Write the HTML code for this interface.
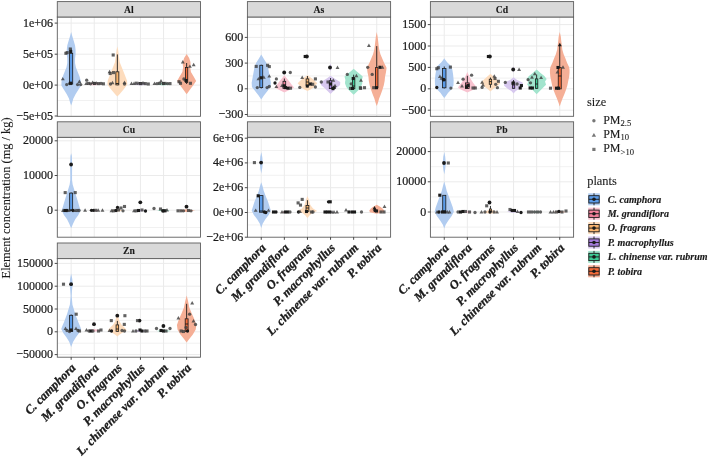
<!DOCTYPE html><html><head><meta charset="utf-8"><style>html,body{margin:0;padding:0;background:#fff;}svg{display:block;will-change:transform;}text{font-family:"Liberation Serif",serif;} .tx{will-change:transform;}</style></head><body>
<svg width="708" height="458" viewBox="0 0 708 458">
<rect width="708" height="458" fill="#fff"/>
<rect x="57.3" y="17.0" width="143.2" height="99.3" fill="#fff"/>
<line x1="57.3" x2="200.5" y1="38.6" y2="38.6" stroke="#EDEDED" stroke-width="0.8"/>
<line x1="57.3" x2="200.5" y1="69.6" y2="69.6" stroke="#EDEDED" stroke-width="0.8"/>
<line x1="57.3" x2="200.5" y1="100.5" y2="100.5" stroke="#EDEDED" stroke-width="0.8"/>
<line x1="57.3" x2="200.5" y1="23.1" y2="23.1" stroke="#EBEBEB" stroke-width="1"/>
<line x1="57.3" x2="200.5" y1="54.2" y2="54.2" stroke="#EBEBEB" stroke-width="1"/>
<line x1="57.3" x2="200.5" y1="85.1" y2="85.1" stroke="#EBEBEB" stroke-width="1"/>
<line x1="71.16" x2="71.16" y1="17.0" y2="116.3" stroke="#EBEBEB" stroke-width="1"/>
<line x1="94.25" x2="94.25" y1="17.0" y2="116.3" stroke="#EBEBEB" stroke-width="1"/>
<line x1="117.35" x2="117.35" y1="17.0" y2="116.3" stroke="#EBEBEB" stroke-width="1"/>
<line x1="140.45" x2="140.45" y1="17.0" y2="116.3" stroke="#EBEBEB" stroke-width="1"/>
<line x1="163.55" x2="163.55" y1="17.0" y2="116.3" stroke="#EBEBEB" stroke-width="1"/>
<line x1="186.64" x2="186.64" y1="17.0" y2="116.3" stroke="#EBEBEB" stroke-width="1"/>
<path d="M71.16,31.90 L72.46,36.70 L73.76,41.10 L75.06,45.50 L75.56,49.80 L75.56,54.20 L75.06,58.50 L75.06,62.90 L75.86,67.30 L77.96,72.40 L79.66,76.70 L80.76,81.10 L80.96,85.50 L78.36,89.80 L75.56,94.20 L73.36,98.50 L72.06,102.90 L71.16,105.50 L70.26,102.90 L68.96,98.50 L66.76,94.20 L63.96,89.80 L61.36,85.50 L61.56,81.10 L62.66,76.70 L64.36,72.40 L66.46,67.30 L67.26,62.90 L67.26,58.50 L66.76,54.20 L66.76,49.80 L67.26,45.50 L68.56,41.10 L69.86,36.70 Z" fill="#B1CCF0" stroke="none"/>
<path d="M94.25,82.00 L100.25,83.30 L101.75,84.30 L94.25,85.50 L86.75,84.30 L88.25,83.30 Z" fill="#F8C3D0" stroke="none"/>
<path d="M117.35,46.40 L118.15,50.00 L118.85,56.20 L119.75,62.30 L122.25,68.40 L124.65,74.50 L126.95,80.60 L127.35,84.30 L125.85,86.50 L123.75,89.20 L119.75,94.10 L117.35,96.50 L114.95,94.10 L110.95,89.20 L108.85,86.50 L107.35,84.30 L107.75,80.60 L110.05,74.50 L112.45,68.40 L114.95,62.30 L115.85,56.20 L116.55,50.00 Z" fill="#FDDCBD" stroke="none"/>
<path d="M140.45,82.00 L145.45,83.50 L147.45,84.50 L140.45,85.50 L133.45,84.50 L135.45,83.50 Z" fill="#D7C8EE" stroke="none"/>
<path d="M163.55,82.00 L168.55,83.50 L170.55,84.50 L163.55,85.50 L156.55,84.50 L158.55,83.50 Z" fill="#A2E4CD" stroke="none"/>
<path d="M186.64,54.00 L189.14,58.00 L190.44,62.00 L190.54,64.50 L190.14,67.00 L190.94,72.00 L193.94,77.10 L196.14,81.10 L193.44,85.10 L190.44,89.10 L186.64,94.20 L182.84,89.10 L179.84,85.10 L177.14,81.10 L179.34,77.10 L182.34,72.00 L183.14,67.00 L182.74,64.50 L182.84,62.00 L184.14,58.00 Z" fill="#F5AF96" stroke="none"/>
<line x1="71.16" x2="71.16" y1="48.5" y2="53.3" stroke="#1a1a1a" stroke-width="0.9"/>
<line x1="71.16" x2="71.16" y1="84.1" y2="85.1" stroke="#1a1a1a" stroke-width="0.9"/>
<rect x="69.61" y="53.3" width="3.10" height="30.80" fill="#5B9BE8" stroke="#1a1a1a" stroke-width="0.8"/>
<line x1="69.61" x2="72.71" y1="83" y2="83" stroke="#1a1a1a" stroke-width="0.9"/>
<line x1="117.35" x2="117.35" y1="54.4" y2="71.8" stroke="#1a1a1a" stroke-width="0.9"/>
<line x1="117.35" x2="117.35" y1="84.9" y2="85.2" stroke="#1a1a1a" stroke-width="0.9"/>
<rect x="115.85" y="71.8" width="3.00" height="13.10" fill="#F9B46E" stroke="#1a1a1a" stroke-width="0.8"/>
<line x1="115.85" x2="118.85" y1="83.5" y2="83.5" stroke="#1a1a1a" stroke-width="0.9"/>
<line x1="186.64" x2="186.64" y1="63.0" y2="67.5" stroke="#1a1a1a" stroke-width="0.9"/>
<line x1="186.64" x2="186.64" y1="82.5" y2="84" stroke="#1a1a1a" stroke-width="0.9"/>
<rect x="185.54" y="67.5" width="2.20" height="15.00" fill="#F36B3A" stroke="#1a1a1a" stroke-width="0.8"/>
<line x1="185.54" x2="187.74" y1="80" y2="80" stroke="#1a1a1a" stroke-width="0.9"/>
<line x1="94.25" x2="94.25" y1="82" y2="82.5" stroke="#1a1a1a" stroke-width="0.9"/>
<line x1="94.25" x2="94.25" y1="84.5" y2="85" stroke="#1a1a1a" stroke-width="0.9"/>
<rect x="93.25" y="82.5" width="2.00" height="2.00" fill="#F3819C" stroke="#1a1a1a" stroke-width="0.8"/>
<line x1="93.25" x2="95.25" y1="84" y2="84" stroke="#1a1a1a" stroke-width="0.9"/>
<line x1="140.45" x2="140.45" y1="82" y2="82.5" stroke="#1a1a1a" stroke-width="0.9"/>
<line x1="140.45" x2="140.45" y1="84.5" y2="85" stroke="#1a1a1a" stroke-width="0.9"/>
<rect x="139.45" y="82.5" width="2.00" height="2.00" fill="#A57BDB" stroke="#1a1a1a" stroke-width="0.8"/>
<line x1="139.45" x2="141.45" y1="84" y2="84" stroke="#1a1a1a" stroke-width="0.9"/>
<line x1="163.55" x2="163.55" y1="82" y2="82.5" stroke="#1a1a1a" stroke-width="0.9"/>
<line x1="163.55" x2="163.55" y1="84.5" y2="85" stroke="#1a1a1a" stroke-width="0.9"/>
<rect x="162.55" y="82.5" width="2.00" height="2.00" fill="#3CCB94" stroke="#1a1a1a" stroke-width="0.8"/>
<line x1="162.55" x2="164.55" y1="84" y2="84" stroke="#1a1a1a" stroke-width="0.9"/>
<rect x="68.75" y="47.45" width="3.1" height="3.1" fill="#404040" fill-opacity="0.82"/>
<rect x="69.15" y="50.05" width="3.1" height="3.1" fill="#1a1a1a" fill-opacity="1"/>
<rect x="64.35" y="51.75" width="3.1" height="3.1" fill="#404040" fill-opacity="0.82"/>
<rect x="65.65" y="51.05" width="3.1" height="3.1" fill="#404040" fill-opacity="0.82"/>
<path d="M62.80,76.90 L64.75,80.30 L60.85,80.30 Z" fill="#404040" fill-opacity="0.82"/>
<path d="M79.40,79.50 L81.35,82.90 L77.45,82.90 Z" fill="#404040" fill-opacity="0.82"/>
<circle cx="66.7" cy="84.6" r="1.65" fill="#404040" fill-opacity="0.82"/>
<circle cx="69.6" cy="83.6" r="1.65" fill="#404040" fill-opacity="0.82"/>
<circle cx="77.6" cy="84.6" r="1.65" fill="#404040" fill-opacity="0.82"/>
<circle cx="80.7" cy="84.6" r="1.65" fill="#404040" fill-opacity="0.82"/>
<rect x="68.95" y="81.65" width="3.1" height="3.1" fill="#1a1a1a" fill-opacity="1"/>
<circle cx="86.7" cy="80.2" r="1.65" fill="#404040" fill-opacity="0.82"/>
<path d="M86.20,81.60 L88.15,85.00 L84.25,85.00 Z" fill="#404040" fill-opacity="0.82"/>
<rect x="86.95" y="81.85" width="3.1" height="3.1" fill="#404040" fill-opacity="0.82"/>
<circle cx="90.6" cy="83.8" r="1.65" fill="#404040" fill-opacity="0.82"/>
<path d="M92.60,80.60 L94.55,84.00 L90.65,84.00 Z" fill="#404040" fill-opacity="0.82"/>
<rect x="93.05" y="81.85" width="3.1" height="3.1" fill="#404040" fill-opacity="0.82"/>
<path d="M96.60,81.20 L98.55,84.60 L94.65,84.60 Z" fill="#404040" fill-opacity="0.82"/>
<rect x="97.05" y="82.05" width="3.1" height="3.1" fill="#404040" fill-opacity="0.82"/>
<circle cx="101" cy="83.4" r="1.65" fill="#404040" fill-opacity="0.82"/>
<rect x="101.85" y="82.25" width="3.1" height="3.1" fill="#404040" fill-opacity="0.82"/>
<rect x="111.65" y="53.45" width="3.1" height="3.1" fill="#404040" fill-opacity="0.82"/>
<path d="M109.60,69.80 L111.55,73.20 L107.65,73.20 Z" fill="#404040" fill-opacity="0.82"/>
<rect x="108.65" y="71.95" width="3.1" height="3.1" fill="#404040" fill-opacity="0.82"/>
<rect x="111.95" y="71.05" width="3.1" height="3.1" fill="#404040" fill-opacity="0.82"/>
<circle cx="110.5" cy="84" r="1.65" fill="#404040" fill-opacity="0.82"/>
<path d="M112.50,80.80 L114.45,84.20 L110.55,84.20 Z" fill="#404040" fill-opacity="0.82"/>
<circle cx="124.5" cy="84" r="1.65" fill="#404040" fill-opacity="0.82"/>
<path d="M124.50,80.50 L126.45,83.90 L122.55,83.90 Z" fill="#404040" fill-opacity="0.82"/>
<path d="M131.50,81.50 L133.45,84.90 L129.55,84.90 Z" fill="#404040" fill-opacity="0.82"/>
<path d="M134.00,81.60 L135.95,85.00 L132.05,85.00 Z" fill="#404040" fill-opacity="0.82"/>
<rect x="134.75" y="81.65" width="3.1" height="3.1" fill="#404040" fill-opacity="0.82"/>
<path d="M138.60,81.40 L140.55,84.80 L136.65,84.80 Z" fill="#404040" fill-opacity="0.82"/>
<rect x="139.25" y="82.05" width="3.1" height="3.1" fill="#404040" fill-opacity="0.82"/>
<circle cx="143" cy="83.2" r="1.65" fill="#404040" fill-opacity="0.82"/>
<rect x="143.75" y="82.05" width="3.1" height="3.1" fill="#404040" fill-opacity="0.82"/>
<rect x="146.75" y="82.45" width="3.1" height="3.1" fill="#404040" fill-opacity="0.82"/>
<path d="M154.50,81.60 L156.45,85.00 L152.55,85.00 Z" fill="#404040" fill-opacity="0.82"/>
<circle cx="157" cy="83.6" r="1.65" fill="#404040" fill-opacity="0.82"/>
<rect x="157.95" y="81.85" width="3.1" height="3.1" fill="#404040" fill-opacity="0.82"/>
<path d="M161.00,79.00 L162.95,82.40 L159.05,82.40 Z" fill="#404040" fill-opacity="0.82"/>
<circle cx="163" cy="83.6" r="1.65" fill="#404040" fill-opacity="0.82"/>
<rect x="163.45" y="81.85" width="3.1" height="3.1" fill="#404040" fill-opacity="0.82"/>
<circle cx="167.5" cy="83.6" r="1.65" fill="#404040" fill-opacity="0.82"/>
<rect x="168.45" y="82.05" width="3.1" height="3.1" fill="#404040" fill-opacity="0.82"/>
<path d="M182.80,60.00 L184.75,63.40 L180.85,63.40 Z" fill="#404040" fill-opacity="0.82"/>
<path d="M193.70,62.80 L195.65,66.20 L191.75,66.20 Z" fill="#404040" fill-opacity="0.82"/>
<path d="M189.90,64.40 L191.85,67.80 L187.95,67.80 Z" fill="#404040" fill-opacity="0.82"/>
<rect x="177.45" y="80.15" width="3.1" height="3.1" fill="#404040" fill-opacity="0.82"/>
<rect x="178.95" y="81.75" width="3.1" height="3.1" fill="#404040" fill-opacity="0.82"/>
<rect x="188.85" y="81.75" width="3.1" height="3.1" fill="#404040" fill-opacity="0.82"/>
<circle cx="183.9" cy="79" r="1.65" fill="#404040" fill-opacity="0.82"/>
<rect x="184.45" y="78.95" width="3.1" height="3.1" fill="#1a1a1a" fill-opacity="1"/>
<rect x="57.3" y="17.0" width="143.2" height="99.3" fill="none" stroke="#5e5e5e" stroke-width="0.9"/>
<rect x="57.3" y="1.6" width="143.2" height="15.4" fill="#D9D9D9" stroke="#5e5e5e" stroke-width="0.9"/>
<text x="128.90" y="12.55" font-size="9.7" font-weight="bold" text-anchor="middle" fill="#1a1a1a" stroke="#1a1a1a" stroke-width="0.1">Al</text>
<line x1="54.699999999999996" x2="57.3" y1="23.1" y2="23.1" stroke="#333" stroke-width="0.9"/>
<text transform="translate(53.10,23.10) scale(1,1.1)" x="0" y="3.2" font-size="12" text-anchor="end" fill="#1a1a1a" stroke="#1a1a1a" stroke-width="0.22">1e+06</text>
<line x1="54.699999999999996" x2="57.3" y1="54.2" y2="54.2" stroke="#333" stroke-width="0.9"/>
<text transform="translate(53.10,54.20) scale(1,1.1)" x="0" y="3.2" font-size="12" text-anchor="end" fill="#1a1a1a" stroke="#1a1a1a" stroke-width="0.22">5e+05</text>
<line x1="54.699999999999996" x2="57.3" y1="85.1" y2="85.1" stroke="#333" stroke-width="0.9"/>
<text transform="translate(53.10,85.10) scale(1,1.1)" x="0" y="3.2" font-size="12" text-anchor="end" fill="#1a1a1a" stroke="#1a1a1a" stroke-width="0.22">0e+00</text>
<line x1="54.699999999999996" x2="57.3" y1="116.0" y2="116.0" stroke="#333" stroke-width="0.9"/>
<text transform="translate(53.10,116.00) scale(1,1.1)" x="0" y="3.2" font-size="12" text-anchor="end" fill="#1a1a1a" stroke="#1a1a1a" stroke-width="0.22">−5e+05</text>
<rect x="247.4" y="17.0" width="143.2" height="99.3" fill="#fff"/>
<line x1="247.4" x2="390.6" y1="24.55" y2="24.55" stroke="#EDEDED" stroke-width="0.8"/>
<line x1="247.4" x2="390.6" y1="50.25" y2="50.25" stroke="#EDEDED" stroke-width="0.8"/>
<line x1="247.4" x2="390.6" y1="75.95" y2="75.95" stroke="#EDEDED" stroke-width="0.8"/>
<line x1="247.4" x2="390.6" y1="101.65" y2="101.65" stroke="#EDEDED" stroke-width="0.8"/>
<line x1="247.4" x2="390.6" y1="37.4" y2="37.4" stroke="#EBEBEB" stroke-width="1"/>
<line x1="247.4" x2="390.6" y1="63.1" y2="63.1" stroke="#EBEBEB" stroke-width="1"/>
<line x1="247.4" x2="390.6" y1="88.8" y2="88.8" stroke="#EBEBEB" stroke-width="1"/>
<line x1="247.4" x2="390.6" y1="114.5" y2="114.5" stroke="#EBEBEB" stroke-width="1"/>
<line x1="261.26" x2="261.26" y1="17.0" y2="116.3" stroke="#EBEBEB" stroke-width="1"/>
<line x1="284.35" x2="284.35" y1="17.0" y2="116.3" stroke="#EBEBEB" stroke-width="1"/>
<line x1="307.45" x2="307.45" y1="17.0" y2="116.3" stroke="#EBEBEB" stroke-width="1"/>
<line x1="330.55" x2="330.55" y1="17.0" y2="116.3" stroke="#EBEBEB" stroke-width="1"/>
<line x1="353.65" x2="353.65" y1="17.0" y2="116.3" stroke="#EBEBEB" stroke-width="1"/>
<line x1="376.74" x2="376.74" y1="17.0" y2="116.3" stroke="#EBEBEB" stroke-width="1"/>
<path d="M330.55,63.30 L331.75,67.50 L330.55,71.60 L329.35,67.50 Z" fill="#D7C8EE" stroke="none"/>
<path d="M261.26,54.40 L263.76,58.70 L266.46,63.10 L268.06,67.40 L268.86,71.80 L269.86,77.30 L270.86,82.70 L270.56,87.10 L267.06,91.40 L263.76,95.80 L261.26,99.60 L258.76,95.80 L255.46,91.40 L251.96,87.10 L251.66,82.70 L252.66,77.30 L253.66,71.80 L254.46,67.40 L256.06,63.10 L258.76,58.70 Z" fill="#B1CCF0" stroke="none"/>
<path d="M284.35,75.20 L287.35,79.00 L289.75,82.00 L291.95,85.00 L294.05,87.40 L289.35,90.00 L284.35,92.50 L279.35,90.00 L274.65,87.40 L276.75,85.00 L278.95,82.00 L281.35,79.00 Z" fill="#F8C3D0" stroke="none"/>
<path d="M307.45,75.20 L312.15,78.60 L314.95,81.00 L317.25,83.30 L315.75,85.00 L313.55,87.40 L310.45,89.50 L307.45,91.10 L304.45,89.50 L301.35,87.40 L299.15,85.00 L297.65,83.30 L299.95,81.00 L302.75,78.60 Z" fill="#FDDCBD" stroke="none"/>
<path d="M330.55,75.80 L335.15,79.10 L340.25,82.00 L340.05,84.90 L336.35,88.20 L333.05,91.50 L330.55,94.00 L328.05,91.50 L324.75,88.20 L321.05,84.90 L320.85,82.00 L325.95,79.10 Z" fill="#D7C8EE" stroke="none"/>
<path d="M353.65,68.80 L356.75,71.60 L360.45,74.40 L362.75,76.50 L362.45,78.00 L361.85,80.00 L362.25,82.00 L362.25,83.50 L360.95,87.00 L358.85,89.80 L356.05,92.60 L353.65,94.70 L351.25,92.60 L348.45,89.80 L346.35,87.00 L345.05,83.50 L345.05,82.00 L345.45,80.00 L344.85,78.00 L344.55,76.50 L346.85,74.40 L350.55,71.60 Z" fill="#A2E4CD" stroke="none"/>
<path d="M376.74,31.90 L377.64,36.70 L378.14,41.10 L378.64,45.50 L379.24,49.80 L380.44,54.20 L382.24,58.50 L384.14,62.90 L386.34,67.30 L386.54,68.00 L385.94,72.40 L385.04,76.70 L384.64,81.10 L383.74,85.50 L382.44,89.80 L380.84,94.20 L379.14,98.50 L377.84,102.90 L376.74,106.00 L375.64,102.90 L374.34,98.50 L372.64,94.20 L371.04,89.80 L369.74,85.50 L368.84,81.10 L368.44,76.70 L367.54,72.40 L366.94,68.00 L367.14,67.30 L369.34,62.90 L371.24,58.50 L373.04,54.20 L374.24,49.80 L374.84,45.50 L375.34,41.10 L375.84,36.70 Z" fill="#F5AF96" stroke="none"/>
<line x1="261.26" x2="261.26" y1="64.7" y2="65.3" stroke="#1a1a1a" stroke-width="0.9"/>
<line x1="261.26" x2="261.26" y1="87.6" y2="88.5" stroke="#1a1a1a" stroke-width="0.9"/>
<rect x="259.81" y="65.3" width="2.90" height="22.30" fill="#5B9BE8" stroke="#1a1a1a" stroke-width="0.8"/>
<line x1="259.81" x2="262.71" y1="77.8" y2="77.8" stroke="#1a1a1a" stroke-width="0.9"/>
<line x1="284.35" x2="284.35" y1="78.5" y2="81.3" stroke="#1a1a1a" stroke-width="0.9"/>
<line x1="284.35" x2="284.35" y1="88.4" y2="89" stroke="#1a1a1a" stroke-width="0.9"/>
<rect x="283.00" y="81.3" width="2.70" height="7.10" fill="#F3819C" stroke="#1a1a1a" stroke-width="0.8"/>
<line x1="283.00" x2="285.70" y1="85" y2="85" stroke="#1a1a1a" stroke-width="0.9"/>
<line x1="307.45" x2="307.45" y1="76" y2="78.9" stroke="#1a1a1a" stroke-width="0.9"/>
<line x1="307.45" x2="307.45" y1="85.3" y2="87.4" stroke="#1a1a1a" stroke-width="0.9"/>
<rect x="306.10" y="78.9" width="2.70" height="6.40" fill="#F9B46E" stroke="#1a1a1a" stroke-width="0.8"/>
<line x1="306.10" x2="308.80" y1="82" y2="82" stroke="#1a1a1a" stroke-width="0.9"/>
<line x1="330.55" x2="330.55" y1="78" y2="80.7" stroke="#1a1a1a" stroke-width="0.9"/>
<line x1="330.55" x2="330.55" y1="88.6" y2="89" stroke="#1a1a1a" stroke-width="0.9"/>
<rect x="329.30" y="80.7" width="2.50" height="7.90" fill="#A57BDB" stroke="#1a1a1a" stroke-width="0.8"/>
<line x1="329.30" x2="331.80" y1="84" y2="84" stroke="#1a1a1a" stroke-width="0.9"/>
<line x1="353.65" x2="353.65" y1="74.7" y2="78.0" stroke="#1a1a1a" stroke-width="0.9"/>
<line x1="353.65" x2="353.65" y1="88.8" y2="89" stroke="#1a1a1a" stroke-width="0.9"/>
<rect x="352.45" y="78.0" width="2.40" height="10.80" fill="#3CCB94" stroke="#1a1a1a" stroke-width="0.8"/>
<line x1="352.45" x2="354.85" y1="86" y2="86" stroke="#1a1a1a" stroke-width="0.9"/>
<line x1="376.74" x2="376.74" y1="46.1" y2="67.6" stroke="#1a1a1a" stroke-width="0.9"/>
<line x1="376.74" x2="376.74" y1="87.7" y2="88.8" stroke="#1a1a1a" stroke-width="0.9"/>
<rect x="375.54" y="67.6" width="2.40" height="20.10" fill="#F36B3A" stroke="#1a1a1a" stroke-width="0.8"/>
<line x1="375.54" x2="377.94" y1="87" y2="87" stroke="#1a1a1a" stroke-width="0.9"/>
<rect x="254.65" y="64.85" width="3.1" height="3.1" fill="#404040" fill-opacity="0.82"/>
<rect x="266.05" y="63.75" width="3.1" height="3.1" fill="#404040" fill-opacity="0.82"/>
<rect x="267.75" y="65.05" width="3.1" height="3.1" fill="#404040" fill-opacity="0.82"/>
<path d="M258.40,76.90 L260.35,80.30 L256.45,80.30 Z" fill="#404040" fill-opacity="0.82"/>
<path d="M269.30,74.20 L271.25,77.60 L267.35,77.60 Z" fill="#404040" fill-opacity="0.82"/>
<path d="M263.80,75.30 L265.75,78.70 L261.85,78.70 Z" fill="#404040" fill-opacity="0.82"/>
<circle cx="257.3" cy="87.6" r="1.65" fill="#404040" fill-opacity="0.82"/>
<circle cx="267.1" cy="87.6" r="1.65" fill="#404040" fill-opacity="0.82"/>
<circle cx="269.3" cy="86.5" r="1.65" fill="#404040" fill-opacity="0.82"/>
<rect x="259.75" y="76.25" width="3.1" height="3.1" fill="#1a1a1a" fill-opacity="1"/>
<circle cx="284.2" cy="72.5" r="1.9" fill="#1a1a1a"/>
<circle cx="290.3" cy="72.5" r="1.65" fill="#404040" fill-opacity="0.82"/>
<circle cx="276.4" cy="78.9" r="1.65" fill="#404040" fill-opacity="0.82"/>
<circle cx="275" cy="83" r="1.65" fill="#1a1a1a" fill-opacity="1"/>
<path d="M276.40,84.70 L278.35,88.10 L274.45,88.10 Z" fill="#404040" fill-opacity="0.82"/>
<path d="M282.00,83.50 L283.95,86.90 L280.05,86.90 Z" fill="#404040" fill-opacity="0.82"/>
<rect x="283.95" y="86.05" width="3.1" height="3.1" fill="#1a1a1a" fill-opacity="1"/>
<rect x="286.45" y="86.65" width="3.1" height="3.1" fill="#1a1a1a" fill-opacity="1"/>
<rect x="288.95" y="86.65" width="3.1" height="3.1" fill="#404040" fill-opacity="0.82"/>
<rect x="282.65" y="84.45" width="3.1" height="3.1" fill="#1a1a1a" fill-opacity="1"/>
<circle cx="306.9" cy="56.5" r="1.9" fill="#1a1a1a"/>
<rect x="303.65" y="54.95" width="3.1" height="3.1" fill="#1a1a1a" fill-opacity="1"/>
<path d="M302.20,75.50 L304.15,78.90 L300.25,78.90 Z" fill="#404040" fill-opacity="0.82"/>
<rect x="313.85" y="77.35" width="3.1" height="3.1" fill="#404040" fill-opacity="0.82"/>
<circle cx="299.8" cy="87.4" r="1.65" fill="#404040" fill-opacity="0.82"/>
<circle cx="315.4" cy="87" r="1.65" fill="#404040" fill-opacity="0.82"/>
<rect x="309.05" y="82.45" width="3.1" height="3.1" fill="#1a1a1a" fill-opacity="1"/>
<rect x="311.15" y="82.75" width="3.1" height="3.1" fill="#404040" fill-opacity="0.82"/>
<rect x="305.75" y="84.45" width="3.1" height="3.1" fill="#1a1a1a" fill-opacity="1"/>
<circle cx="330" cy="67.5" r="1.9" fill="#1a1a1a"/>
<path d="M337.50,65.50 L339.45,68.90 L335.55,68.90 Z" fill="#404040" fill-opacity="0.82"/>
<circle cx="321.3" cy="82" r="1.65" fill="#404040" fill-opacity="0.82"/>
<rect x="326.45" y="80.45" width="3.1" height="3.1" fill="#404040" fill-opacity="0.82"/>
<path d="M333.30,78.30 L335.25,81.70 L331.35,81.70 Z" fill="#404040" fill-opacity="0.82"/>
<rect x="332.65" y="85.85" width="3.1" height="3.1" fill="#1a1a1a" fill-opacity="1"/>
<rect x="331.45" y="87.05" width="3.1" height="3.1" fill="#1a1a1a" fill-opacity="1"/>
<path d="M335.00,83.70 L336.95,87.10 L333.05,87.10 Z" fill="#404040" fill-opacity="0.82"/>
<rect x="328.95" y="82.45" width="3.1" height="3.1" fill="#1a1a1a" fill-opacity="1"/>
<circle cx="347.3" cy="74.4" r="1.65" fill="#404040" fill-opacity="0.82"/>
<path d="M356.40,73.80 L358.35,77.20 L354.45,77.20 Z" fill="#404040" fill-opacity="0.82"/>
<path d="M361.00,78.30 L362.95,81.70 L359.05,81.70 Z" fill="#404040" fill-opacity="0.82"/>
<rect x="348.95" y="86.85" width="3.1" height="3.1" fill="#404040" fill-opacity="0.82"/>
<rect x="350.95" y="86.85" width="3.1" height="3.1" fill="#1a1a1a" fill-opacity="1"/>
<rect x="359.05" y="86.85" width="3.1" height="3.1" fill="#404040" fill-opacity="0.82"/>
<rect x="351.65" y="76.95" width="3.1" height="3.1" fill="#1a1a1a" fill-opacity="1"/>
<circle cx="351.2" cy="83.8" r="1.65" fill="#404040" fill-opacity="0.82"/>
<path d="M368.90,43.60 L370.85,47.00 L366.95,47.00 Z" fill="#404040" fill-opacity="0.82"/>
<circle cx="367.7" cy="67.3" r="1.65" fill="#404040" fill-opacity="0.82"/>
<circle cx="372.2" cy="74.4" r="1.65" fill="#404040" fill-opacity="0.82"/>
<rect x="378.45" y="65.75" width="3.1" height="3.1" fill="#1a1a1a" fill-opacity="1"/>
<path d="M382.40,65.30 L384.35,68.70 L380.45,68.70 Z" fill="#404040" fill-opacity="0.82"/>
<rect x="372.15" y="86.15" width="3.1" height="3.1" fill="#404040" fill-opacity="0.82"/>
<rect x="374.95" y="86.15" width="3.1" height="3.1" fill="#1a1a1a" fill-opacity="1"/>
<rect x="358.85" y="86.15" width="3.1" height="3.1" fill="#404040" fill-opacity="0.82"/>
<rect x="362.95" y="86.15" width="3.1" height="3.1" fill="#404040" fill-opacity="0.82"/>
<rect x="247.4" y="17.0" width="143.2" height="99.3" fill="none" stroke="#5e5e5e" stroke-width="0.9"/>
<rect x="247.4" y="1.6" width="143.2" height="15.4" fill="#D9D9D9" stroke="#5e5e5e" stroke-width="0.9"/>
<text x="319.00" y="12.55" font-size="9.7" font-weight="bold" text-anchor="middle" fill="#1a1a1a" stroke="#1a1a1a" stroke-width="0.1">As</text>
<line x1="244.8" x2="247.4" y1="37.4" y2="37.4" stroke="#333" stroke-width="0.9"/>
<text transform="translate(243.20,37.40) scale(1,1.1)" x="0" y="3.2" font-size="12" text-anchor="end" fill="#1a1a1a" stroke="#1a1a1a" stroke-width="0.22">600</text>
<line x1="244.8" x2="247.4" y1="63.1" y2="63.1" stroke="#333" stroke-width="0.9"/>
<text transform="translate(243.20,63.10) scale(1,1.1)" x="0" y="3.2" font-size="12" text-anchor="end" fill="#1a1a1a" stroke="#1a1a1a" stroke-width="0.22">300</text>
<line x1="244.8" x2="247.4" y1="88.8" y2="88.8" stroke="#333" stroke-width="0.9"/>
<text transform="translate(243.20,88.80) scale(1,1.1)" x="0" y="3.2" font-size="12" text-anchor="end" fill="#1a1a1a" stroke="#1a1a1a" stroke-width="0.22">0</text>
<line x1="244.8" x2="247.4" y1="114.5" y2="114.5" stroke="#333" stroke-width="0.9"/>
<text transform="translate(243.20,114.50) scale(1,1.1)" x="0" y="3.2" font-size="12" text-anchor="end" fill="#1a1a1a" stroke="#1a1a1a" stroke-width="0.22">−300</text>
<rect x="430.4" y="17.0" width="143.2" height="99.3" fill="#fff"/>
<line x1="430.4" x2="573.5999999999999" y1="35.3" y2="35.3" stroke="#EDEDED" stroke-width="0.8"/>
<line x1="430.4" x2="573.5999999999999" y1="56.7" y2="56.7" stroke="#EDEDED" stroke-width="0.8"/>
<line x1="430.4" x2="573.5999999999999" y1="78.1" y2="78.1" stroke="#EDEDED" stroke-width="0.8"/>
<line x1="430.4" x2="573.5999999999999" y1="99.5" y2="99.5" stroke="#EDEDED" stroke-width="0.8"/>
<line x1="430.4" x2="573.5999999999999" y1="24.6" y2="24.6" stroke="#EBEBEB" stroke-width="1"/>
<line x1="430.4" x2="573.5999999999999" y1="46.0" y2="46.0" stroke="#EBEBEB" stroke-width="1"/>
<line x1="430.4" x2="573.5999999999999" y1="67.4" y2="67.4" stroke="#EBEBEB" stroke-width="1"/>
<line x1="430.4" x2="573.5999999999999" y1="88.8" y2="88.8" stroke="#EBEBEB" stroke-width="1"/>
<line x1="430.4" x2="573.5999999999999" y1="110.2" y2="110.2" stroke="#EBEBEB" stroke-width="1"/>
<line x1="444.26" x2="444.26" y1="17.0" y2="116.3" stroke="#EBEBEB" stroke-width="1"/>
<line x1="467.35" x2="467.35" y1="17.0" y2="116.3" stroke="#EBEBEB" stroke-width="1"/>
<line x1="490.45" x2="490.45" y1="17.0" y2="116.3" stroke="#EBEBEB" stroke-width="1"/>
<line x1="513.55" x2="513.55" y1="17.0" y2="116.3" stroke="#EBEBEB" stroke-width="1"/>
<line x1="536.65" x2="536.65" y1="17.0" y2="116.3" stroke="#EBEBEB" stroke-width="1"/>
<line x1="559.74" x2="559.74" y1="17.0" y2="116.3" stroke="#EBEBEB" stroke-width="1"/>
<path d="M513.55,66.30 L514.65,69.50 L513.55,72.60 L512.45,69.50 Z" fill="#D7C8EE" stroke="none"/>
<path d="M444.26,58.20 L445.76,60.50 L447.36,62.40 L450.56,65.50 L452.36,69.70 L453.16,75.00 L453.66,80.20 L453.46,85.40 L451.36,89.60 L448.16,92.80 L445.86,95.90 L444.26,98.00 L442.66,95.90 L440.36,92.80 L437.16,89.60 L435.06,85.40 L434.86,80.20 L435.36,75.00 L436.16,69.70 L437.96,65.50 L441.16,62.40 L442.76,60.50 Z" fill="#B1CCF0" stroke="none"/>
<path d="M467.35,72.10 L469.25,76.20 L471.05,79.60 L473.25,82.90 L475.85,86.30 L476.65,87.70 L474.85,89.00 L471.75,90.40 L467.35,92.40 L462.95,90.40 L459.85,89.00 L458.05,87.70 L458.85,86.30 L461.45,82.90 L463.65,79.60 L465.45,76.20 Z" fill="#F8C3D0" stroke="none"/>
<path d="M490.45,73.80 L494.65,77.50 L498.55,80.90 L500.25,83.60 L497.05,86.30 L493.15,89.10 L490.45,91.40 L487.75,89.10 L483.85,86.30 L480.65,83.60 L482.35,80.90 L486.25,77.50 Z" fill="#FDDCBD" stroke="none"/>
<path d="M513.55,77.30 L517.05,80.10 L522.55,82.40 L523.15,85.60 L519.45,88.70 L515.75,91.10 L513.55,93.40 L511.35,91.10 L507.65,88.70 L503.95,85.60 L504.55,82.40 L510.05,80.10 Z" fill="#D7C8EE" stroke="none"/>
<path d="M536.65,69.50 L540.55,73.00 L544.35,76.10 L546.65,78.90 L545.05,81.60 L546.05,84.80 L542.75,87.90 L539.75,91.10 L536.65,94.20 L533.55,91.10 L530.55,87.90 L527.25,84.80 L528.25,81.60 L526.65,78.90 L528.95,76.10 L532.75,73.00 Z" fill="#A2E4CD" stroke="none"/>
<path d="M559.74,31.90 L560.84,36.70 L561.24,41.10 L561.84,45.50 L562.34,49.80 L563.64,54.20 L565.44,58.50 L567.14,62.90 L569.14,67.30 L569.54,70.00 L569.54,72.40 L569.14,76.70 L568.24,81.10 L567.34,85.50 L566.04,89.80 L564.34,94.20 L562.54,98.50 L560.84,102.90 L559.74,106.40 L558.64,102.90 L556.94,98.50 L555.14,94.20 L553.44,89.80 L552.14,85.50 L551.24,81.10 L550.34,76.70 L549.94,72.40 L549.94,70.00 L550.34,67.30 L552.34,62.90 L554.04,58.50 L555.84,54.20 L557.14,49.80 L557.64,45.50 L558.24,41.10 L558.64,36.70 Z" fill="#F5AF96" stroke="none"/>
<line x1="444.26" x2="444.26" y1="66.5" y2="68.5" stroke="#1a1a1a" stroke-width="0.9"/>
<line x1="444.26" x2="444.26" y1="87.8" y2="88.5" stroke="#1a1a1a" stroke-width="0.9"/>
<rect x="442.56" y="68.5" width="3.40" height="19.30" fill="#5B9BE8" stroke="#1a1a1a" stroke-width="0.8"/>
<line x1="442.56" x2="445.96" y1="80" y2="80" stroke="#1a1a1a" stroke-width="0.9"/>
<line x1="467.35" x2="467.35" y1="75.8" y2="82.9" stroke="#1a1a1a" stroke-width="0.9"/>
<line x1="467.35" x2="467.35" y1="88.4" y2="88.8" stroke="#1a1a1a" stroke-width="0.9"/>
<rect x="465.55" y="82.9" width="3.60" height="5.50" fill="#F3819C" stroke="#1a1a1a" stroke-width="0.8"/>
<line x1="465.55" x2="469.15" y1="86" y2="86" stroke="#1a1a1a" stroke-width="0.9"/>
<line x1="490.45" x2="490.45" y1="77.5" y2="79.2" stroke="#1a1a1a" stroke-width="0.9"/>
<line x1="490.45" x2="490.45" y1="84.3" y2="87.7" stroke="#1a1a1a" stroke-width="0.9"/>
<rect x="489.25" y="79.2" width="2.40" height="5.10" fill="#F9B46E" stroke="#1a1a1a" stroke-width="0.8"/>
<line x1="489.25" x2="491.65" y1="81.6" y2="81.6" stroke="#1a1a1a" stroke-width="0.9"/>
<line x1="513.55" x2="513.55" y1="80" y2="82" stroke="#1a1a1a" stroke-width="0.9"/>
<line x1="513.55" x2="513.55" y1="88.3" y2="88.8" stroke="#1a1a1a" stroke-width="0.9"/>
<rect x="512.35" y="82" width="2.40" height="6.30" fill="#A57BDB" stroke="#1a1a1a" stroke-width="0.8"/>
<line x1="512.35" x2="514.75" y1="85" y2="85" stroke="#1a1a1a" stroke-width="0.9"/>
<line x1="536.65" x2="536.65" y1="74.6" y2="78.9" stroke="#1a1a1a" stroke-width="0.9"/>
<line x1="536.65" x2="536.65" y1="88.3" y2="89" stroke="#1a1a1a" stroke-width="0.9"/>
<rect x="535.50" y="78.9" width="2.30" height="9.40" fill="#3CCB94" stroke="#1a1a1a" stroke-width="0.8"/>
<line x1="535.50" x2="537.80" y1="84" y2="84" stroke="#1a1a1a" stroke-width="0.9"/>
<line x1="559.74" x2="559.74" y1="44.8" y2="67.6" stroke="#1a1a1a" stroke-width="0.9"/>
<line x1="559.74" x2="559.74" y1="88.9" y2="89" stroke="#1a1a1a" stroke-width="0.9"/>
<rect x="558.24" y="67.6" width="3.00" height="21.30" fill="#F36B3A" stroke="#1a1a1a" stroke-width="0.8"/>
<line x1="558.24" x2="561.24" y1="76" y2="76" stroke="#1a1a1a" stroke-width="0.9"/>
<rect x="435.25" y="67.15" width="3.1" height="3.1" fill="#404040" fill-opacity="0.82"/>
<rect x="436.75" y="66.15" width="3.1" height="3.1" fill="#404040" fill-opacity="0.82"/>
<rect x="448.85" y="65.55" width="3.1" height="3.1" fill="#404040" fill-opacity="0.82"/>
<circle cx="436.8" cy="87.5" r="1.65" fill="#1a1a1a" fill-opacity="1"/>
<circle cx="450.9" cy="88.1" r="1.65" fill="#404040" fill-opacity="0.82"/>
<path d="M439.90,74.50 L441.85,77.90 L437.95,77.90 Z" fill="#404040" fill-opacity="0.82"/>
<path d="M441.50,76.30 L443.45,79.70 L439.55,79.70 Z" fill="#404040" fill-opacity="0.82"/>
<circle cx="443.6" cy="79.7" r="1.9" fill="#1a1a1a"/>
<path d="M458.00,80.60 L459.95,84.00 L456.05,84.00 Z" fill="#404040" fill-opacity="0.82"/>
<circle cx="463.1" cy="79.2" r="1.65" fill="#404040" fill-opacity="0.82"/>
<circle cx="471.6" cy="75.2" r="1.65" fill="#404040" fill-opacity="0.82"/>
<rect x="471.45" y="86.45" width="3.1" height="3.1" fill="#404040" fill-opacity="0.82"/>
<rect x="473.75" y="86.45" width="3.1" height="3.1" fill="#404040" fill-opacity="0.82"/>
<rect x="464.95" y="85.45" width="3.1" height="3.1" fill="#1a1a1a" fill-opacity="1"/>
<rect x="466.45" y="83.95" width="3.1" height="3.1" fill="#1a1a1a" fill-opacity="1"/>
<path d="M462.00,84.00 L463.95,87.40 L460.05,87.40 Z" fill="#404040" fill-opacity="0.82"/>
<circle cx="489.9" cy="56.5" r="1.9" fill="#1a1a1a"/>
<rect x="486.85" y="54.95" width="3.1" height="3.1" fill="#1a1a1a" fill-opacity="1"/>
<path d="M482.10,80.30 L484.05,83.70 L480.15,83.70 Z" fill="#404040" fill-opacity="0.82"/>
<path d="M483.00,83.00 L484.95,86.40 L481.05,86.40 Z" fill="#404040" fill-opacity="0.82"/>
<path d="M494.30,74.20 L496.25,77.60 L492.35,77.60 Z" fill="#404040" fill-opacity="0.82"/>
<rect x="493.45" y="76.95" width="3.1" height="3.1" fill="#404040" fill-opacity="0.82"/>
<rect x="496.85" y="79.75" width="3.1" height="3.1" fill="#404040" fill-opacity="0.82"/>
<circle cx="495.7" cy="84.3" r="1.65" fill="#404040" fill-opacity="0.82"/>
<circle cx="497.4" cy="87.7" r="1.65" fill="#404040" fill-opacity="0.82"/>
<circle cx="482.1" cy="87.4" r="1.65" fill="#404040" fill-opacity="0.82"/>
<circle cx="513.2" cy="69.5" r="1.9" fill="#1a1a1a"/>
<path d="M519.10,67.50 L521.05,70.90 L517.15,70.90 Z" fill="#404040" fill-opacity="0.82"/>
<circle cx="505.3" cy="82.4" r="1.65" fill="#404040" fill-opacity="0.82"/>
<rect x="511.45" y="81.65" width="3.1" height="3.1" fill="#1a1a1a" fill-opacity="1"/>
<circle cx="517.1" cy="84" r="1.65" fill="#404040" fill-opacity="0.82"/>
<rect x="518.65" y="86.45" width="3.1" height="3.1" fill="#1a1a1a" fill-opacity="1"/>
<rect x="519.85" y="84.05" width="3.1" height="3.1" fill="#1a1a1a" fill-opacity="1"/>
<circle cx="528.1" cy="79.7" r="1.65" fill="#404040" fill-opacity="0.82"/>
<circle cx="530.5" cy="82.8" r="1.65" fill="#404040" fill-opacity="0.82"/>
<path d="M532.00,75.30 L533.95,78.70 L530.05,78.70 Z" fill="#404040" fill-opacity="0.82"/>
<path d="M534.80,71.80 L536.75,75.20 L532.85,75.20 Z" fill="#404040" fill-opacity="0.82"/>
<path d="M541.10,75.70 L543.05,79.10 L539.15,79.10 Z" fill="#404040" fill-opacity="0.82"/>
<rect x="528.55" y="86.45" width="3.1" height="3.1" fill="#1a1a1a" fill-opacity="1"/>
<rect x="530.85" y="86.45" width="3.1" height="3.1" fill="#1a1a1a" fill-opacity="1"/>
<rect x="548.95" y="86.65" width="3.1" height="3.1" fill="#404040" fill-opacity="0.82"/>
<rect x="554.95" y="86.65" width="3.1" height="3.1" fill="#1a1a1a" fill-opacity="1"/>
<rect x="556.95" y="86.65" width="3.1" height="3.1" fill="#1a1a1a" fill-opacity="1"/>
<rect x="556.45" y="65.95" width="3.1" height="3.1" fill="#1a1a1a" fill-opacity="1"/>
<path d="M563.00,65.30 L564.95,68.70 L561.05,68.70 Z" fill="#404040" fill-opacity="0.82"/>
<path d="M557.50,70.00 L559.45,73.40 L555.55,73.40 Z" fill="#404040" fill-opacity="0.82"/>
<path d="M559.80,42.80 L561.75,46.20 L557.85,46.20 Z" fill="#1a1a1a" fill-opacity="1"/>
<rect x="430.4" y="17.0" width="143.2" height="99.3" fill="none" stroke="#5e5e5e" stroke-width="0.9"/>
<rect x="430.4" y="1.6" width="143.2" height="15.4" fill="#D9D9D9" stroke="#5e5e5e" stroke-width="0.9"/>
<text x="502.00" y="12.55" font-size="9.7" font-weight="bold" text-anchor="middle" fill="#1a1a1a" stroke="#1a1a1a" stroke-width="0.1">Cd</text>
<line x1="427.79999999999995" x2="430.4" y1="24.6" y2="24.6" stroke="#333" stroke-width="0.9"/>
<text transform="translate(426.20,24.60) scale(1,1.1)" x="0" y="3.2" font-size="12" text-anchor="end" fill="#1a1a1a" stroke="#1a1a1a" stroke-width="0.22">1500</text>
<line x1="427.79999999999995" x2="430.4" y1="46.0" y2="46.0" stroke="#333" stroke-width="0.9"/>
<text transform="translate(426.20,46.00) scale(1,1.1)" x="0" y="3.2" font-size="12" text-anchor="end" fill="#1a1a1a" stroke="#1a1a1a" stroke-width="0.22">1000</text>
<line x1="427.79999999999995" x2="430.4" y1="67.4" y2="67.4" stroke="#333" stroke-width="0.9"/>
<text transform="translate(426.20,67.40) scale(1,1.1)" x="0" y="3.2" font-size="12" text-anchor="end" fill="#1a1a1a" stroke="#1a1a1a" stroke-width="0.22">500</text>
<line x1="427.79999999999995" x2="430.4" y1="88.8" y2="88.8" stroke="#333" stroke-width="0.9"/>
<text transform="translate(426.20,88.80) scale(1,1.1)" x="0" y="3.2" font-size="12" text-anchor="end" fill="#1a1a1a" stroke="#1a1a1a" stroke-width="0.22">0</text>
<line x1="427.79999999999995" x2="430.4" y1="110.2" y2="110.2" stroke="#333" stroke-width="0.9"/>
<text transform="translate(426.20,110.20) scale(1,1.1)" x="0" y="3.2" font-size="12" text-anchor="end" fill="#1a1a1a" stroke="#1a1a1a" stroke-width="0.22">−500</text>
<rect x="57.3" y="137.3" width="143.2" height="99.89999999999998" fill="#fff"/>
<line x1="57.3" x2="200.5" y1="158.15" y2="158.15" stroke="#EDEDED" stroke-width="0.8"/>
<line x1="57.3" x2="200.5" y1="192.85" y2="192.85" stroke="#EDEDED" stroke-width="0.8"/>
<line x1="57.3" x2="200.5" y1="227.5" y2="227.5" stroke="#EDEDED" stroke-width="0.8"/>
<line x1="57.3" x2="200.5" y1="140.8" y2="140.8" stroke="#EBEBEB" stroke-width="1"/>
<line x1="57.3" x2="200.5" y1="175.5" y2="175.5" stroke="#EBEBEB" stroke-width="1"/>
<line x1="57.3" x2="200.5" y1="210.2" y2="210.2" stroke="#EBEBEB" stroke-width="1"/>
<line x1="71.16" x2="71.16" y1="137.3" y2="237.2" stroke="#EBEBEB" stroke-width="1"/>
<line x1="94.25" x2="94.25" y1="137.3" y2="237.2" stroke="#EBEBEB" stroke-width="1"/>
<line x1="117.35" x2="117.35" y1="137.3" y2="237.2" stroke="#EBEBEB" stroke-width="1"/>
<line x1="140.45" x2="140.45" y1="137.3" y2="237.2" stroke="#EBEBEB" stroke-width="1"/>
<line x1="163.55" x2="163.55" y1="137.3" y2="237.2" stroke="#EBEBEB" stroke-width="1"/>
<line x1="186.64" x2="186.64" y1="137.3" y2="237.2" stroke="#EBEBEB" stroke-width="1"/>
<path d="M71.16,153.20 L71.86,156.00 L72.16,165.00 L72.06,175.00 L72.06,180.00 L72.66,184.40 L73.96,188.70 L75.26,193.10 L76.66,197.50 L77.96,201.80 L79.26,206.20 L80.56,210.50 L78.36,214.90 L75.26,219.30 L73.16,223.50 L71.16,228.30 L69.16,223.50 L67.06,219.30 L63.96,214.90 L61.76,210.50 L63.06,206.20 L64.36,201.80 L65.66,197.50 L67.06,193.10 L68.36,188.70 L69.66,184.40 L70.26,180.00 L70.26,175.00 L70.16,165.00 L70.46,156.00 Z" fill="#B1CCF0" stroke="none"/>
<path d="M94.25,209.60 L99.25,210.60 L94.25,211.60 L89.25,210.60 Z" fill="#F8C3D0" stroke="none"/>
<path d="M117.35,209.30 L123.85,210.60 L117.35,211.80 L110.85,210.60 Z" fill="#FDDCBD" stroke="none"/>
<path d="M140.45,209.60 L145.45,210.60 L140.45,211.60 L135.45,210.60 Z" fill="#D7C8EE" stroke="none"/>
<path d="M163.55,209.30 L170.05,210.60 L163.55,211.80 L157.05,210.60 Z" fill="#A2E4CD" stroke="none"/>
<path d="M186.64,209.20 L195.14,210.60 L186.64,211.90 L178.14,210.60 Z" fill="#F5AF96" stroke="none"/>
<line x1="71.16" x2="71.16" y1="192.5" y2="193.1" stroke="#1a1a1a" stroke-width="0.9"/>
<line x1="71.16" x2="71.16" y1="210.5" y2="210.8" stroke="#1a1a1a" stroke-width="0.9"/>
<rect x="69.66" y="193.1" width="3.00" height="17.40" fill="#5B9BE8" stroke="#1a1a1a" stroke-width="0.8"/>
<line x1="69.66" x2="72.66" y1="209.8" y2="209.8" stroke="#1a1a1a" stroke-width="0.9"/>
<circle cx="71.1" cy="164.5" r="1.9" fill="#1a1a1a"/>
<rect x="63.65" y="191.05" width="3.1" height="3.1" fill="#404040" fill-opacity="0.82"/>
<rect x="73.65" y="191.05" width="3.1" height="3.1" fill="#404040" fill-opacity="0.82"/>
<path d="M63.00,208.50 L64.95,211.90 L61.05,211.90 Z" fill="#404040" fill-opacity="0.82"/>
<rect x="63.45" y="208.95" width="3.1" height="3.1" fill="#1a1a1a" fill-opacity="1"/>
<circle cx="67" cy="210.5" r="1.65" fill="#1a1a1a" fill-opacity="1"/>
<path d="M69.00,208.50 L70.95,211.90 L67.05,211.90 Z" fill="#404040" fill-opacity="0.82"/>
<circle cx="73" cy="210.5" r="1.65" fill="#1a1a1a" fill-opacity="1"/>
<path d="M75.00,208.50 L76.95,211.90 L73.05,211.90 Z" fill="#404040" fill-opacity="0.82"/>
<rect x="75.45" y="208.95" width="3.1" height="3.1" fill="#404040" fill-opacity="0.82"/>
<circle cx="79" cy="210.5" r="1.65" fill="#404040" fill-opacity="0.82"/>
<path d="M85.10,208.30 L87.05,211.70 L83.15,211.70 Z" fill="#404040" fill-opacity="0.82"/>
<circle cx="91.5" cy="210.3" r="1.65" fill="#1a1a1a" fill-opacity="1"/>
<circle cx="93.5" cy="210.3" r="1.65" fill="#1a1a1a" fill-opacity="1"/>
<rect x="94.15" y="208.75" width="3.1" height="3.1" fill="#404040" fill-opacity="0.82"/>
<path d="M98.20,208.30 L100.15,211.70 L96.25,211.70 Z" fill="#404040" fill-opacity="0.82"/>
<path d="M102.50,208.30 L104.45,211.70 L100.55,211.70 Z" fill="#404040" fill-opacity="0.82"/>
<path d="M111.50,208.80 L113.45,212.20 L109.55,212.20 Z" fill="#404040" fill-opacity="0.82"/>
<rect x="111.95" y="209.25" width="3.1" height="3.1" fill="#404040" fill-opacity="0.82"/>
<circle cx="116" cy="210.5" r="1.65" fill="#1a1a1a" fill-opacity="1"/>
<circle cx="117.5" cy="207.5" r="1.65" fill="#1a1a1a" fill-opacity="1"/>
<rect x="116.95" y="208.45" width="3.1" height="3.1" fill="#404040" fill-opacity="0.82"/>
<rect x="119.45" y="206.45" width="3.1" height="3.1" fill="#404040" fill-opacity="0.82"/>
<rect x="122.95" y="204.95" width="3.1" height="3.1" fill="#404040" fill-opacity="0.82"/>
<circle cx="123" cy="210.8" r="1.65" fill="#404040" fill-opacity="0.82"/>
<path d="M134.00,208.80 L135.95,212.20 L132.05,212.20 Z" fill="#404040" fill-opacity="0.82"/>
<rect x="134.45" y="209.25" width="3.1" height="3.1" fill="#404040" fill-opacity="0.82"/>
<rect x="136.95" y="208.95" width="3.1" height="3.1" fill="#1a1a1a" fill-opacity="1"/>
<circle cx="140.3" cy="202.3" r="1.9" fill="#1a1a1a"/>
<rect x="140.45" y="208.45" width="3.1" height="3.1" fill="#404040" fill-opacity="0.82"/>
<circle cx="145.5" cy="211" r="1.65" fill="#1a1a1a" fill-opacity="1"/>
<circle cx="154" cy="208.5" r="1.65" fill="#404040" fill-opacity="0.82"/>
<rect x="158.95" y="207.45" width="3.1" height="3.1" fill="#404040" fill-opacity="0.82"/>
<circle cx="163" cy="210.8" r="1.9" fill="#1a1a1a"/>
<rect x="163.45" y="209.25" width="3.1" height="3.1" fill="#1a1a1a" fill-opacity="1"/>
<path d="M167.00,208.00 L168.95,211.40 L165.05,211.40 Z" fill="#404040" fill-opacity="0.82"/>
<rect x="176.45" y="209.25" width="3.1" height="3.1" fill="#404040" fill-opacity="0.82"/>
<rect x="179.45" y="209.25" width="3.1" height="3.1" fill="#404040" fill-opacity="0.82"/>
<circle cx="183.5" cy="210.8" r="1.65" fill="#404040" fill-opacity="0.82"/>
<circle cx="186.5" cy="206.7" r="1.9" fill="#1a1a1a"/>
<rect x="186.95" y="208.95" width="3.1" height="3.1" fill="#404040" fill-opacity="0.82"/>
<circle cx="191" cy="210.8" r="1.65" fill="#404040" fill-opacity="0.82"/>
<rect x="57.3" y="137.3" width="143.2" height="99.89999999999998" fill="none" stroke="#5e5e5e" stroke-width="0.9"/>
<rect x="57.3" y="121.8" width="143.2" height="15.500000000000014" fill="#D9D9D9" stroke="#5e5e5e" stroke-width="0.9"/>
<text x="128.90" y="132.80" font-size="9.7" font-weight="bold" text-anchor="middle" fill="#1a1a1a" stroke="#1a1a1a" stroke-width="0.1">Cu</text>
<line x1="54.699999999999996" x2="57.3" y1="140.8" y2="140.8" stroke="#333" stroke-width="0.9"/>
<text transform="translate(53.10,140.80) scale(1,1.1)" x="0" y="3.2" font-size="12" text-anchor="end" fill="#1a1a1a" stroke="#1a1a1a" stroke-width="0.22">20000</text>
<line x1="54.699999999999996" x2="57.3" y1="175.5" y2="175.5" stroke="#333" stroke-width="0.9"/>
<text transform="translate(53.10,175.50) scale(1,1.1)" x="0" y="3.2" font-size="12" text-anchor="end" fill="#1a1a1a" stroke="#1a1a1a" stroke-width="0.22">10000</text>
<line x1="54.699999999999996" x2="57.3" y1="210.2" y2="210.2" stroke="#333" stroke-width="0.9"/>
<text transform="translate(53.10,210.20) scale(1,1.1)" x="0" y="3.2" font-size="12" text-anchor="end" fill="#1a1a1a" stroke="#1a1a1a" stroke-width="0.22">0</text>
<rect x="247.4" y="137.3" width="143.2" height="99.89999999999998" fill="#fff"/>
<line x1="247.4" x2="390.6" y1="150.5" y2="150.5" stroke="#EDEDED" stroke-width="0.8"/>
<line x1="247.4" x2="390.6" y1="175.3" y2="175.3" stroke="#EDEDED" stroke-width="0.8"/>
<line x1="247.4" x2="390.6" y1="200.1" y2="200.1" stroke="#EDEDED" stroke-width="0.8"/>
<line x1="247.4" x2="390.6" y1="224.9" y2="224.9" stroke="#EDEDED" stroke-width="0.8"/>
<line x1="247.4" x2="390.6" y1="138.2" y2="138.2" stroke="#EBEBEB" stroke-width="1"/>
<line x1="247.4" x2="390.6" y1="162.9" y2="162.9" stroke="#EBEBEB" stroke-width="1"/>
<line x1="247.4" x2="390.6" y1="187.7" y2="187.7" stroke="#EBEBEB" stroke-width="1"/>
<line x1="247.4" x2="390.6" y1="212.5" y2="212.5" stroke="#EBEBEB" stroke-width="1"/>
<line x1="261.26" x2="261.26" y1="137.3" y2="237.2" stroke="#EBEBEB" stroke-width="1"/>
<line x1="284.35" x2="284.35" y1="137.3" y2="237.2" stroke="#EBEBEB" stroke-width="1"/>
<line x1="307.45" x2="307.45" y1="137.3" y2="237.2" stroke="#EBEBEB" stroke-width="1"/>
<line x1="330.55" x2="330.55" y1="137.3" y2="237.2" stroke="#EBEBEB" stroke-width="1"/>
<line x1="353.65" x2="353.65" y1="137.3" y2="237.2" stroke="#EBEBEB" stroke-width="1"/>
<line x1="376.74" x2="376.74" y1="137.3" y2="237.2" stroke="#EBEBEB" stroke-width="1"/>
<path d="M261.26,151.90 L262.26,157.00 L262.76,162.40 L262.26,168.00 L261.26,173.40 L260.26,168.00 L259.76,162.40 L260.26,157.00 Z" fill="#B1CCF0" stroke="none"/>
<path d="M261.26,182.20 L262.66,186.60 L263.76,190.90 L265.86,196.40 L268.06,201.80 L269.76,207.30 L270.86,210.60 L268.66,214.90 L265.36,219.30 L262.66,223.70 L261.26,228.00 L259.86,223.70 L257.16,219.30 L253.86,214.90 L251.66,210.60 L252.76,207.30 L254.46,201.80 L256.66,196.40 L258.76,190.90 L259.86,186.60 Z" fill="#B1CCF0" stroke="none"/>
<path d="M284.35,211.50 L288.35,212.30 L284.35,213.10 L280.35,212.30 Z" fill="#F8C3D0" stroke="none"/>
<path d="M307.45,195.90 L308.45,198.50 L309.45,201.80 L310.35,205.10 L313.05,208.40 L317.15,211.00 L312.35,213.00 L309.45,215.60 L307.45,218.20 L305.45,215.60 L302.55,213.00 L297.75,211.00 L301.85,208.40 L304.55,205.10 L305.45,201.80 L306.45,198.50 Z" fill="#FDDCBD" stroke="none"/>
<path d="M330.55,211.50 L334.55,212.30 L330.55,213.10 L326.55,212.30 Z" fill="#D7C8EE" stroke="none"/>
<path d="M353.65,211.50 L357.65,212.30 L353.65,213.10 L349.65,212.30 Z" fill="#A2E4CD" stroke="none"/>
<path d="M376.74,204.80 L380.64,206.90 L382.54,208.50 L384.24,210.60 L383.54,212.20 L379.14,213.20 L376.74,213.70 L374.34,213.20 L369.94,212.20 L369.24,210.60 L370.94,208.50 L372.84,206.90 Z" fill="#F5AF96" stroke="none"/>
<line x1="261.26" x2="261.26" y1="195.4" y2="195.6" stroke="#1a1a1a" stroke-width="0.9"/>
<line x1="261.26" x2="261.26" y1="212.2" y2="212.5" stroke="#1a1a1a" stroke-width="0.9"/>
<rect x="259.56" y="195.6" width="3.40" height="16.60" fill="#5B9BE8" stroke="#1a1a1a" stroke-width="0.8"/>
<line x1="259.56" x2="262.96" y1="211" y2="211" stroke="#1a1a1a" stroke-width="0.9"/>
<line x1="307.45" x2="307.45" y1="200.2" y2="205.4" stroke="#1a1a1a" stroke-width="0.9"/>
<line x1="307.45" x2="307.45" y1="211.3" y2="212.5" stroke="#1a1a1a" stroke-width="0.9"/>
<rect x="306.00" y="205.4" width="2.90" height="5.90" fill="#F9B46E" stroke="#1a1a1a" stroke-width="0.8"/>
<line x1="306.00" x2="308.90" y1="208" y2="208" stroke="#1a1a1a" stroke-width="0.9"/>
<circle cx="261.1" cy="162.6" r="1.9" fill="#1a1a1a"/>
<rect x="252.85" y="161.05" width="3.1" height="3.1" fill="#404040" fill-opacity="0.82"/>
<rect x="256.65" y="194.25" width="3.1" height="3.1" fill="#1a1a1a" fill-opacity="1"/>
<path d="M255.70,208.40 L257.65,211.80 L253.75,211.80 Z" fill="#404040" fill-opacity="0.82"/>
<path d="M268.50,208.40 L270.45,211.80 L266.55,211.80 Z" fill="#404040" fill-opacity="0.82"/>
<circle cx="264.3" cy="212" r="1.65" fill="#1a1a1a" fill-opacity="1"/>
<circle cx="265.8" cy="212.5" r="1.65" fill="#1a1a1a" fill-opacity="1"/>
<rect x="271.95" y="210.45" width="3.1" height="3.1" fill="#1a1a1a" fill-opacity="1"/>
<circle cx="276" cy="212" r="1.65" fill="#1a1a1a" fill-opacity="1"/>
<path d="M282.00,210.00 L283.95,213.40 L280.05,213.40 Z" fill="#404040" fill-opacity="0.82"/>
<circle cx="285" cy="212" r="1.65" fill="#1a1a1a" fill-opacity="1"/>
<rect x="285.95" y="210.45" width="3.1" height="3.1" fill="#1a1a1a" fill-opacity="1"/>
<circle cx="290" cy="212" r="1.65" fill="#404040" fill-opacity="0.82"/>
<rect x="300.65" y="197.85" width="3.1" height="3.1" fill="#404040" fill-opacity="0.82"/>
<rect x="296.55" y="201.35" width="3.1" height="3.1" fill="#404040" fill-opacity="0.82"/>
<rect x="298.95" y="203.55" width="3.1" height="3.1" fill="#404040" fill-opacity="0.82"/>
<circle cx="298.5" cy="212" r="1.65" fill="#1a1a1a" fill-opacity="1"/>
<path d="M300.00,209.50 L301.95,212.90 L298.05,212.90 Z" fill="#404040" fill-opacity="0.82"/>
<rect x="309.95" y="210.45" width="3.1" height="3.1" fill="#404040" fill-opacity="0.82"/>
<circle cx="313" cy="212" r="1.65" fill="#404040" fill-opacity="0.82"/>
<rect x="304.95" y="209.95" width="3.1" height="3.1" fill="#1a1a1a" fill-opacity="1"/>
<circle cx="328.5" cy="201.8" r="1.65" fill="#1a1a1a" fill-opacity="1"/>
<rect x="328.65" y="200.25" width="3.1" height="3.1" fill="#1a1a1a" fill-opacity="1"/>
<rect x="323.45" y="210.45" width="3.1" height="3.1" fill="#1a1a1a" fill-opacity="1"/>
<rect x="325.95" y="210.45" width="3.1" height="3.1" fill="#1a1a1a" fill-opacity="1"/>
<circle cx="330" cy="212" r="1.65" fill="#1a1a1a" fill-opacity="1"/>
<path d="M332.00,210.00 L333.95,213.40 L330.05,213.40 Z" fill="#404040" fill-opacity="0.82"/>
<path d="M334.00,210.00 L335.95,213.40 L332.05,213.40 Z" fill="#404040" fill-opacity="0.82"/>
<path d="M337.00,210.00 L338.95,213.40 L335.05,213.40 Z" fill="#404040" fill-opacity="0.82"/>
<path d="M346.00,208.00 L347.95,211.40 L344.05,211.40 Z" fill="#404040" fill-opacity="0.82"/>
<rect x="347.45" y="210.45" width="3.1" height="3.1" fill="#1a1a1a" fill-opacity="1"/>
<circle cx="352" cy="212" r="1.65" fill="#1a1a1a" fill-opacity="1"/>
<rect x="352.95" y="210.45" width="3.1" height="3.1" fill="#1a1a1a" fill-opacity="1"/>
<circle cx="361.5" cy="212" r="1.65" fill="#404040" fill-opacity="0.82"/>
<path d="M374.50,206.00 L376.45,209.40 L372.55,209.40 Z" fill="#1a1a1a" fill-opacity="1"/>
<circle cx="375" cy="210.5" r="1.65" fill="#1a1a1a" fill-opacity="1"/>
<rect x="374.95" y="209.45" width="3.1" height="3.1" fill="#1a1a1a" fill-opacity="1"/>
<rect x="379.45" y="210.45" width="3.1" height="3.1" fill="#404040" fill-opacity="0.82"/>
<rect x="382.45" y="210.45" width="3.1" height="3.1" fill="#404040" fill-opacity="0.82"/>
<path d="M384.50,204.50 L386.45,207.90 L382.55,207.90 Z" fill="#404040" fill-opacity="0.82"/>
<rect x="247.4" y="137.3" width="143.2" height="99.89999999999998" fill="none" stroke="#5e5e5e" stroke-width="0.9"/>
<rect x="247.4" y="121.8" width="143.2" height="15.500000000000014" fill="#D9D9D9" stroke="#5e5e5e" stroke-width="0.9"/>
<text x="319.00" y="132.80" font-size="9.7" font-weight="bold" text-anchor="middle" fill="#1a1a1a" stroke="#1a1a1a" stroke-width="0.1">Fe</text>
<line x1="244.8" x2="247.4" y1="138.2" y2="138.2" stroke="#333" stroke-width="0.9"/>
<text transform="translate(243.20,138.20) scale(1,1.1)" x="0" y="3.2" font-size="12" text-anchor="end" fill="#1a1a1a" stroke="#1a1a1a" stroke-width="0.22">6e+06</text>
<line x1="244.8" x2="247.4" y1="162.9" y2="162.9" stroke="#333" stroke-width="0.9"/>
<text transform="translate(243.20,162.90) scale(1,1.1)" x="0" y="3.2" font-size="12" text-anchor="end" fill="#1a1a1a" stroke="#1a1a1a" stroke-width="0.22">4e+06</text>
<line x1="244.8" x2="247.4" y1="187.7" y2="187.7" stroke="#333" stroke-width="0.9"/>
<text transform="translate(243.20,187.70) scale(1,1.1)" x="0" y="3.2" font-size="12" text-anchor="end" fill="#1a1a1a" stroke="#1a1a1a" stroke-width="0.22">2e+06</text>
<line x1="244.8" x2="247.4" y1="212.5" y2="212.5" stroke="#333" stroke-width="0.9"/>
<text transform="translate(243.20,212.50) scale(1,1.1)" x="0" y="3.2" font-size="12" text-anchor="end" fill="#1a1a1a" stroke="#1a1a1a" stroke-width="0.22">0e+00</text>
<line x1="244.8" x2="247.4" y1="237.2" y2="237.2" stroke="#333" stroke-width="0.9"/>
<text transform="translate(243.20,237.20) scale(1,1.1)" x="0" y="3.2" font-size="12" text-anchor="end" fill="#1a1a1a" stroke="#1a1a1a" stroke-width="0.22">−2e+06</text>
<rect x="430.4" y="137.3" width="143.2" height="99.89999999999998" fill="#fff"/>
<line x1="430.4" x2="573.5999999999999" y1="166.7" y2="166.7" stroke="#EDEDED" stroke-width="0.8"/>
<line x1="430.4" x2="573.5999999999999" y1="196.9" y2="196.9" stroke="#EDEDED" stroke-width="0.8"/>
<line x1="430.4" x2="573.5999999999999" y1="227.1" y2="227.1" stroke="#EDEDED" stroke-width="0.8"/>
<line x1="430.4" x2="573.5999999999999" y1="151.6" y2="151.6" stroke="#EBEBEB" stroke-width="1"/>
<line x1="430.4" x2="573.5999999999999" y1="181.8" y2="181.8" stroke="#EBEBEB" stroke-width="1"/>
<line x1="430.4" x2="573.5999999999999" y1="212.0" y2="212.0" stroke="#EBEBEB" stroke-width="1"/>
<line x1="444.26" x2="444.26" y1="137.3" y2="237.2" stroke="#EBEBEB" stroke-width="1"/>
<line x1="467.35" x2="467.35" y1="137.3" y2="237.2" stroke="#EBEBEB" stroke-width="1"/>
<line x1="490.45" x2="490.45" y1="137.3" y2="237.2" stroke="#EBEBEB" stroke-width="1"/>
<line x1="513.55" x2="513.55" y1="137.3" y2="237.2" stroke="#EBEBEB" stroke-width="1"/>
<line x1="536.65" x2="536.65" y1="137.3" y2="237.2" stroke="#EBEBEB" stroke-width="1"/>
<line x1="559.74" x2="559.74" y1="137.3" y2="237.2" stroke="#EBEBEB" stroke-width="1"/>
<path d="M444.26,151.90 L445.26,157.00 L445.76,163.00 L445.26,169.00 L444.26,174.30 L443.26,169.00 L442.76,163.00 L443.26,157.00 Z" fill="#B1CCF0" stroke="none"/>
<path d="M444.26,181.60 L445.66,186.60 L446.76,190.90 L448.86,196.40 L450.76,201.80 L452.76,207.30 L453.86,211.70 L451.66,216.00 L448.36,220.40 L445.66,224.80 L444.26,228.60 L442.86,224.80 L440.16,220.40 L436.86,216.00 L434.66,211.70 L435.76,207.30 L437.76,201.80 L439.66,196.40 L441.76,190.90 L442.86,186.60 Z" fill="#B1CCF0" stroke="none"/>
<path d="M467.35,211.20 L472.35,212.00 L467.35,212.80 L462.35,212.00 Z" fill="#F8C3D0" stroke="none"/>
<path d="M490.45,209.00 L494.45,211.00 L498.45,212.50 L490.45,213.80 L482.45,212.50 L486.45,211.00 Z" fill="#FDDCBD" stroke="none"/>
<path d="M513.55,210.50 L520.55,211.80 L513.55,212.80 L506.55,211.80 Z" fill="#D7C8EE" stroke="none"/>
<path d="M536.65,211.20 L541.65,212.00 L536.65,212.80 L531.65,212.00 Z" fill="#A2E4CD" stroke="none"/>
<path d="M559.74,211.00 L566.24,212.00 L559.74,213.00 L553.24,212.00 Z" fill="#F5AF96" stroke="none"/>
<line x1="444.26" x2="444.26" y1="195.1" y2="195.3" stroke="#1a1a1a" stroke-width="0.9"/>
<line x1="444.26" x2="444.26" y1="211.8" y2="212.2" stroke="#1a1a1a" stroke-width="0.9"/>
<rect x="442.71" y="195.3" width="3.10" height="16.50" fill="#5B9BE8" stroke="#1a1a1a" stroke-width="0.8"/>
<line x1="442.71" x2="445.81" y1="211" y2="211" stroke="#1a1a1a" stroke-width="0.9"/>
<line x1="490.45" x2="490.45" y1="206" y2="209" stroke="#1a1a1a" stroke-width="0.9"/>
<line x1="490.45" x2="490.45" y1="212" y2="212.5" stroke="#1a1a1a" stroke-width="0.9"/>
<rect x="489.55" y="209" width="1.80" height="3.00" fill="#F9B46E" stroke="#1a1a1a" stroke-width="0.8"/>
<line x1="489.55" x2="491.35" y1="211.5" y2="211.5" stroke="#1a1a1a" stroke-width="0.9"/>
<circle cx="444" cy="163" r="1.9" fill="#1a1a1a"/>
<rect x="446.75" y="161.45" width="3.1" height="3.1" fill="#404040" fill-opacity="0.82"/>
<rect x="438.25" y="193.65" width="3.1" height="3.1" fill="#1a1a1a" fill-opacity="1"/>
<path d="M437.00,210.00 L438.95,213.40 L435.05,213.40 Z" fill="#404040" fill-opacity="0.82"/>
<circle cx="439" cy="212" r="1.65" fill="#1a1a1a" fill-opacity="1"/>
<rect x="440.95" y="210.45" width="3.1" height="3.1" fill="#1a1a1a" fill-opacity="1"/>
<circle cx="445" cy="212" r="1.65" fill="#1a1a1a" fill-opacity="1"/>
<path d="M447.50,210.00 L449.45,213.40 L445.55,213.40 Z" fill="#404040" fill-opacity="0.82"/>
<path d="M449.50,210.00 L451.45,213.40 L447.55,213.40 Z" fill="#404040" fill-opacity="0.82"/>
<circle cx="458" cy="212" r="1.65" fill="#404040" fill-opacity="0.82"/>
<rect x="458.95" y="210.45" width="3.1" height="3.1" fill="#1a1a1a" fill-opacity="1"/>
<rect x="461.45" y="209.95" width="3.1" height="3.1" fill="#1a1a1a" fill-opacity="1"/>
<rect x="463.95" y="209.95" width="3.1" height="3.1" fill="#404040" fill-opacity="0.82"/>
<rect x="467.95" y="210.45" width="3.1" height="3.1" fill="#404040" fill-opacity="0.82"/>
<circle cx="475" cy="212.5" r="1.65" fill="#404040" fill-opacity="0.82"/>
<path d="M481.50,210.00 L483.45,213.40 L479.55,213.40 Z" fill="#404040" fill-opacity="0.82"/>
<circle cx="485" cy="212" r="1.65" fill="#404040" fill-opacity="0.82"/>
<rect x="485.15" y="204.25" width="3.1" height="3.1" fill="#404040" fill-opacity="0.82"/>
<circle cx="489.5" cy="202.5" r="1.9" fill="#1a1a1a"/>
<circle cx="490" cy="212" r="1.65" fill="#1a1a1a" fill-opacity="1"/>
<circle cx="494" cy="212" r="1.65" fill="#404040" fill-opacity="0.82"/>
<path d="M497.00,210.00 L498.95,213.40 L495.05,213.40 Z" fill="#404040" fill-opacity="0.82"/>
<rect x="508.45" y="207.95" width="3.1" height="3.1" fill="#404040" fill-opacity="0.82"/>
<circle cx="512" cy="210.5" r="1.65" fill="#1a1a1a" fill-opacity="1"/>
<rect x="512.95" y="208.95" width="3.1" height="3.1" fill="#1a1a1a" fill-opacity="1"/>
<path d="M517.50,209.50 L519.45,212.90 L515.55,212.90 Z" fill="#404040" fill-opacity="0.82"/>
<circle cx="521" cy="212.5" r="1.65" fill="#1a1a1a" fill-opacity="1"/>
<rect x="526.95" y="210.45" width="3.1" height="3.1" fill="#404040" fill-opacity="0.82"/>
<rect x="529.95" y="210.45" width="3.1" height="3.1" fill="#404040" fill-opacity="0.82"/>
<circle cx="534.5" cy="212" r="1.65" fill="#404040" fill-opacity="0.82"/>
<rect x="535.95" y="210.45" width="3.1" height="3.1" fill="#404040" fill-opacity="0.82"/>
<circle cx="540.5" cy="212" r="1.65" fill="#404040" fill-opacity="0.82"/>
<path d="M550.50,210.00 L552.45,213.40 L548.55,213.40 Z" fill="#404040" fill-opacity="0.82"/>
<path d="M553.50,210.00 L555.45,213.40 L551.55,213.40 Z" fill="#404040" fill-opacity="0.82"/>
<rect x="554.95" y="210.45" width="3.1" height="3.1" fill="#404040" fill-opacity="0.82"/>
<circle cx="559" cy="211.5" r="1.65" fill="#1a1a1a" fill-opacity="1"/>
<rect x="560.45" y="210.45" width="3.1" height="3.1" fill="#404040" fill-opacity="0.82"/>
<rect x="564.45" y="209.45" width="3.1" height="3.1" fill="#404040" fill-opacity="0.82"/>
<rect x="430.4" y="137.3" width="143.2" height="99.89999999999998" fill="none" stroke="#5e5e5e" stroke-width="0.9"/>
<rect x="430.4" y="121.8" width="143.2" height="15.500000000000014" fill="#D9D9D9" stroke="#5e5e5e" stroke-width="0.9"/>
<text x="502.00" y="132.80" font-size="9.7" font-weight="bold" text-anchor="middle" fill="#1a1a1a" stroke="#1a1a1a" stroke-width="0.1">Pb</text>
<line x1="427.79999999999995" x2="430.4" y1="151.6" y2="151.6" stroke="#333" stroke-width="0.9"/>
<text transform="translate(426.20,151.60) scale(1,1.1)" x="0" y="3.2" font-size="12" text-anchor="end" fill="#1a1a1a" stroke="#1a1a1a" stroke-width="0.22">20000</text>
<line x1="427.79999999999995" x2="430.4" y1="181.8" y2="181.8" stroke="#333" stroke-width="0.9"/>
<text transform="translate(426.20,181.80) scale(1,1.1)" x="0" y="3.2" font-size="12" text-anchor="end" fill="#1a1a1a" stroke="#1a1a1a" stroke-width="0.22">10000</text>
<line x1="427.79999999999995" x2="430.4" y1="212.0" y2="212.0" stroke="#333" stroke-width="0.9"/>
<text transform="translate(426.20,212.00) scale(1,1.1)" x="0" y="3.2" font-size="12" text-anchor="end" fill="#1a1a1a" stroke="#1a1a1a" stroke-width="0.22">0</text>
<rect x="57.3" y="258.6" width="143.2" height="98.59999999999997" fill="#fff"/>
<line x1="57.3" x2="200.5" y1="274.8" y2="274.8" stroke="#EDEDED" stroke-width="0.8"/>
<line x1="57.3" x2="200.5" y1="297.6" y2="297.6" stroke="#EDEDED" stroke-width="0.8"/>
<line x1="57.3" x2="200.5" y1="320.4" y2="320.4" stroke="#EDEDED" stroke-width="0.8"/>
<line x1="57.3" x2="200.5" y1="343.2" y2="343.2" stroke="#EDEDED" stroke-width="0.8"/>
<line x1="57.3" x2="200.5" y1="263.4" y2="263.4" stroke="#EBEBEB" stroke-width="1"/>
<line x1="57.3" x2="200.5" y1="286.2" y2="286.2" stroke="#EBEBEB" stroke-width="1"/>
<line x1="57.3" x2="200.5" y1="309.0" y2="309.0" stroke="#EBEBEB" stroke-width="1"/>
<line x1="57.3" x2="200.5" y1="331.8" y2="331.8" stroke="#EBEBEB" stroke-width="1"/>
<line x1="57.3" x2="200.5" y1="354.6" y2="354.6" stroke="#EBEBEB" stroke-width="1"/>
<line x1="71.16" x2="71.16" y1="258.6" y2="357.2" stroke="#EBEBEB" stroke-width="1"/>
<line x1="94.25" x2="94.25" y1="258.6" y2="357.2" stroke="#EBEBEB" stroke-width="1"/>
<line x1="117.35" x2="117.35" y1="258.6" y2="357.2" stroke="#EBEBEB" stroke-width="1"/>
<line x1="140.45" x2="140.45" y1="258.6" y2="357.2" stroke="#EBEBEB" stroke-width="1"/>
<line x1="163.55" x2="163.55" y1="258.6" y2="357.2" stroke="#EBEBEB" stroke-width="1"/>
<line x1="186.64" x2="186.64" y1="258.6" y2="357.2" stroke="#EBEBEB" stroke-width="1"/>
<path d="M71.16,273.50 L72.26,279.00 L72.66,284.20 L72.06,290.00 L71.66,296.00 L72.46,304.70 L73.76,309.10 L75.06,313.50 L76.66,317.80 L78.36,322.20 L79.96,326.00 L81.06,329.00 L79.06,333.10 L75.76,337.50 L73.16,341.80 L71.16,347.00 L69.16,341.80 L66.56,337.50 L63.26,333.10 L61.26,329.00 L62.36,326.00 L63.96,322.20 L65.66,317.80 L67.26,313.50 L68.56,309.10 L69.86,304.70 L70.66,296.00 L70.26,290.00 L69.66,284.20 L70.06,279.00 Z" fill="#B1CCF0" stroke="none"/>
<path d="M94.25,329.00 L101.75,330.40 L94.25,331.80 L86.75,330.40 Z" fill="#F8C3D0" stroke="none"/>
<path d="M117.35,312.70 L118.35,317.10 L119.35,320.90 L121.45,324.60 L125.15,328.30 L126.85,330.50 L122.35,332.70 L119.05,335.00 L117.35,336.50 L115.65,335.00 L112.35,332.70 L107.85,330.50 L109.55,328.30 L113.25,324.60 L115.35,320.90 L116.35,317.10 Z" fill="#FDDCBD" stroke="none"/>
<path d="M140.45,329.50 L147.45,331.00 L140.45,332.30 L133.45,331.00 Z" fill="#D7C8EE" stroke="none"/>
<path d="M163.55,329.50 L170.55,331.00 L163.55,332.30 L156.55,331.00 Z" fill="#A2E4CD" stroke="none"/>
<path d="M186.64,295.50 L188.14,301.40 L189.24,307.30 L191.64,313.20 L194.24,319.10 L196.34,324.90 L195.74,329.60 L192.84,334.40 L189.24,339.10 L186.64,342.60 L184.04,339.10 L180.44,334.40 L177.54,329.60 L176.94,324.90 L179.04,319.10 L181.64,313.20 L184.04,307.30 L185.14,301.40 Z" fill="#F5AF96" stroke="none"/>
<line x1="71.16" x2="71.16" y1="314.5" y2="315.3" stroke="#1a1a1a" stroke-width="0.9"/>
<line x1="71.16" x2="71.16" y1="331.6" y2="331.8" stroke="#1a1a1a" stroke-width="0.9"/>
<rect x="69.61" y="315.3" width="3.10" height="16.30" fill="#5B9BE8" stroke="#1a1a1a" stroke-width="0.8"/>
<line x1="69.61" x2="72.71" y1="330.5" y2="330.5" stroke="#1a1a1a" stroke-width="0.9"/>
<line x1="117.35" x2="117.35" y1="320.9" y2="324.9" stroke="#1a1a1a" stroke-width="0.9"/>
<line x1="117.35" x2="117.35" y1="331.3" y2="331.8" stroke="#1a1a1a" stroke-width="0.9"/>
<rect x="116.05" y="324.9" width="2.60" height="6.40" fill="#F9B46E" stroke="#1a1a1a" stroke-width="0.8"/>
<line x1="116.05" x2="118.65" y1="329" y2="329" stroke="#1a1a1a" stroke-width="0.9"/>
<line x1="186.64" x2="186.64" y1="303.8" y2="318.8" stroke="#1a1a1a" stroke-width="0.9"/>
<line x1="186.64" x2="186.64" y1="331.4" y2="332" stroke="#1a1a1a" stroke-width="0.9"/>
<rect x="185.19" y="318.8" width="2.90" height="12.60" fill="#F36B3A" stroke="#1a1a1a" stroke-width="0.8"/>
<line x1="185.19" x2="188.09" y1="324" y2="324" stroke="#1a1a1a" stroke-width="0.9"/>
<circle cx="71.1" cy="284.2" r="1.9" fill="#1a1a1a"/>
<rect x="61.95" y="282.65" width="3.1" height="3.1" fill="#404040" fill-opacity="0.82"/>
<rect x="74.65" y="312.65" width="3.1" height="3.1" fill="#404040" fill-opacity="0.82"/>
<path d="M65.50,326.50 L67.45,329.90 L63.55,329.90 Z" fill="#404040" fill-opacity="0.82"/>
<circle cx="67" cy="330.5" r="1.65" fill="#404040" fill-opacity="0.82"/>
<path d="M76.00,326.50 L77.95,329.90 L74.05,329.90 Z" fill="#404040" fill-opacity="0.82"/>
<circle cx="78" cy="330.5" r="1.65" fill="#404040" fill-opacity="0.82"/>
<circle cx="69.5" cy="331.5" r="1.65" fill="#404040" fill-opacity="0.82"/>
<rect x="77.95" y="329.45" width="3.1" height="3.1" fill="#404040" fill-opacity="0.82"/>
<rect x="69.45" y="328.45" width="3.1" height="3.1" fill="#1a1a1a" fill-opacity="1"/>
<circle cx="94" cy="324.2" r="1.9" fill="#1a1a1a"/>
<path d="M86.50,328.00 L88.45,331.40 L84.55,331.40 Z" fill="#404040" fill-opacity="0.82"/>
<circle cx="89" cy="331" r="1.65" fill="#404040" fill-opacity="0.82"/>
<rect x="89.45" y="329.45" width="3.1" height="3.1" fill="#1a1a1a" fill-opacity="1"/>
<circle cx="93" cy="331" r="1.65" fill="#404040" fill-opacity="0.82"/>
<rect x="96.95" y="329.45" width="3.1" height="3.1" fill="#404040" fill-opacity="0.82"/>
<rect x="99.45" y="328.45" width="3.1" height="3.1" fill="#404040" fill-opacity="0.82"/>
<circle cx="117.3" cy="315.7" r="1.9" fill="#1a1a1a"/>
<rect x="123.35" y="314.15" width="3.1" height="3.1" fill="#404040" fill-opacity="0.82"/>
<rect x="109.75" y="319.05" width="3.1" height="3.1" fill="#404040" fill-opacity="0.82"/>
<rect x="122.75" y="322.85" width="3.1" height="3.1" fill="#404040" fill-opacity="0.82"/>
<path d="M109.50,328.50 L111.45,331.90 L107.55,331.90 Z" fill="#404040" fill-opacity="0.82"/>
<circle cx="111.5" cy="331" r="1.65" fill="#1a1a1a" fill-opacity="1"/>
<circle cx="122" cy="330.5" r="1.65" fill="#404040" fill-opacity="0.82"/>
<circle cx="124.5" cy="331" r="1.65" fill="#404040" fill-opacity="0.82"/>
<circle cx="139.5" cy="320.6" r="1.9" fill="#1a1a1a"/>
<rect x="135.95" y="319.05" width="3.1" height="3.1" fill="#404040" fill-opacity="0.82"/>
<path d="M133.00,329.00 L134.95,332.40 L131.05,332.40 Z" fill="#404040" fill-opacity="0.82"/>
<circle cx="136" cy="331" r="1.65" fill="#404040" fill-opacity="0.82"/>
<rect x="138.45" y="328.45" width="3.1" height="3.1" fill="#1a1a1a" fill-opacity="1"/>
<rect x="140.45" y="329.45" width="3.1" height="3.1" fill="#1a1a1a" fill-opacity="1"/>
<circle cx="145" cy="331" r="1.65" fill="#404040" fill-opacity="0.82"/>
<rect x="145.45" y="329.45" width="3.1" height="3.1" fill="#404040" fill-opacity="0.82"/>
<circle cx="156.5" cy="328.5" r="1.65" fill="#404040" fill-opacity="0.82"/>
<circle cx="163.4" cy="326" r="1.9" fill="#1a1a1a"/>
<rect x="159.45" y="328.95" width="3.1" height="3.1" fill="#1a1a1a" fill-opacity="1"/>
<rect x="161.95" y="329.45" width="3.1" height="3.1" fill="#1a1a1a" fill-opacity="1"/>
<rect x="164.45" y="329.45" width="3.1" height="3.1" fill="#404040" fill-opacity="0.82"/>
<circle cx="170" cy="328.5" r="1.65" fill="#404040" fill-opacity="0.82"/>
<path d="M192.20,301.10 L194.15,304.50 L190.25,304.50 Z" fill="#404040" fill-opacity="0.82"/>
<path d="M178.40,316.10 L180.35,319.50 L176.45,319.50 Z" fill="#404040" fill-opacity="0.82"/>
<circle cx="189.6" cy="314.2" r="1.65" fill="#404040" fill-opacity="0.82"/>
<path d="M193.50,319.00 L195.45,322.40 L191.55,322.40 Z" fill="#404040" fill-opacity="0.82"/>
<circle cx="195.5" cy="324.5" r="1.65" fill="#404040" fill-opacity="0.82"/>
<rect x="179.55" y="329.45" width="3.1" height="3.1" fill="#404040" fill-opacity="0.82"/>
<rect x="181.95" y="329.95" width="3.1" height="3.1" fill="#404040" fill-opacity="0.82"/>
<circle cx="187.5" cy="331" r="1.65" fill="#1a1a1a" fill-opacity="1"/>
<circle cx="186" cy="327.5" r="1.65" fill="#404040" fill-opacity="0.82"/>
<rect x="57.3" y="258.6" width="143.2" height="98.59999999999997" fill="none" stroke="#5e5e5e" stroke-width="0.9"/>
<rect x="57.3" y="243.0" width="143.2" height="15.600000000000023" fill="#D9D9D9" stroke="#5e5e5e" stroke-width="0.9"/>
<text x="128.90" y="254.05" font-size="9.7" font-weight="bold" text-anchor="middle" fill="#1a1a1a" stroke="#1a1a1a" stroke-width="0.1">Zn</text>
<line x1="54.699999999999996" x2="57.3" y1="263.4" y2="263.4" stroke="#333" stroke-width="0.9"/>
<text transform="translate(53.10,263.40) scale(1,1.1)" x="0" y="3.2" font-size="12" text-anchor="end" fill="#1a1a1a" stroke="#1a1a1a" stroke-width="0.22">150000</text>
<line x1="54.699999999999996" x2="57.3" y1="286.2" y2="286.2" stroke="#333" stroke-width="0.9"/>
<text transform="translate(53.10,286.20) scale(1,1.1)" x="0" y="3.2" font-size="12" text-anchor="end" fill="#1a1a1a" stroke="#1a1a1a" stroke-width="0.22">100000</text>
<line x1="54.699999999999996" x2="57.3" y1="309.0" y2="309.0" stroke="#333" stroke-width="0.9"/>
<text transform="translate(53.10,309.00) scale(1,1.1)" x="0" y="3.2" font-size="12" text-anchor="end" fill="#1a1a1a" stroke="#1a1a1a" stroke-width="0.22">50000</text>
<line x1="54.699999999999996" x2="57.3" y1="331.8" y2="331.8" stroke="#333" stroke-width="0.9"/>
<text transform="translate(53.10,331.80) scale(1,1.1)" x="0" y="3.2" font-size="12" text-anchor="end" fill="#1a1a1a" stroke="#1a1a1a" stroke-width="0.22">0</text>
<line x1="54.699999999999996" x2="57.3" y1="354.6" y2="354.6" stroke="#333" stroke-width="0.9"/>
<text transform="translate(53.10,354.60) scale(1,1.1)" x="0" y="3.2" font-size="12" text-anchor="end" fill="#1a1a1a" stroke="#1a1a1a" stroke-width="0.22">−50000</text>
<line x1="71.16" x2="71.16" y1="357.2" y2="359.8" stroke="#333" stroke-width="0.9"/>
<text transform="translate(70.16,362.20) rotate(-45)" x="0" y="0" dy="0.72em" font-size="12.4" font-weight="bold" font-style="italic" text-anchor="end" stroke="#1a1a1a" stroke-width="0.3" fill="#1a1a1a">C. camphora</text>
<line x1="94.25" x2="94.25" y1="357.2" y2="359.8" stroke="#333" stroke-width="0.9"/>
<text transform="translate(93.25,362.20) rotate(-45)" x="0" y="0" dy="0.72em" font-size="12.4" font-weight="bold" font-style="italic" text-anchor="end" stroke="#1a1a1a" stroke-width="0.3" fill="#1a1a1a">M. grandiflora</text>
<line x1="117.35" x2="117.35" y1="357.2" y2="359.8" stroke="#333" stroke-width="0.9"/>
<text transform="translate(116.35,362.20) rotate(-45)" x="0" y="0" dy="0.72em" font-size="12.4" font-weight="bold" font-style="italic" text-anchor="end" stroke="#1a1a1a" stroke-width="0.3" fill="#1a1a1a">O. fragrans</text>
<line x1="140.45" x2="140.45" y1="357.2" y2="359.8" stroke="#333" stroke-width="0.9"/>
<text transform="translate(139.45,362.20) rotate(-45)" x="0" y="0" dy="0.72em" font-size="12.4" font-weight="bold" font-style="italic" text-anchor="end" stroke="#1a1a1a" stroke-width="0.3" fill="#1a1a1a">P. macrophyllus</text>
<line x1="163.55" x2="163.55" y1="357.2" y2="359.8" stroke="#333" stroke-width="0.9"/>
<text transform="translate(162.55,362.20) rotate(-45)" x="0" y="0" dy="0.72em" font-size="12.4" font-weight="bold" font-style="italic" text-anchor="end" stroke="#1a1a1a" stroke-width="0.3" fill="#1a1a1a">L. chinense var. rubrum</text>
<line x1="186.64" x2="186.64" y1="357.2" y2="359.8" stroke="#333" stroke-width="0.9"/>
<text transform="translate(185.64,362.20) rotate(-45)" x="0" y="0" dy="0.72em" font-size="12.4" font-weight="bold" font-style="italic" text-anchor="end" stroke="#1a1a1a" stroke-width="0.3" fill="#1a1a1a">P. tobira</text>
<line x1="261.26" x2="261.26" y1="237.2" y2="239.79999999999998" stroke="#333" stroke-width="0.9"/>
<text transform="translate(260.26,242.20) rotate(-45)" x="0" y="0" dy="0.72em" font-size="12.4" font-weight="bold" font-style="italic" text-anchor="end" stroke="#1a1a1a" stroke-width="0.3" fill="#1a1a1a">C. camphora</text>
<line x1="284.35" x2="284.35" y1="237.2" y2="239.79999999999998" stroke="#333" stroke-width="0.9"/>
<text transform="translate(283.35,242.20) rotate(-45)" x="0" y="0" dy="0.72em" font-size="12.4" font-weight="bold" font-style="italic" text-anchor="end" stroke="#1a1a1a" stroke-width="0.3" fill="#1a1a1a">M. grandiflora</text>
<line x1="307.45" x2="307.45" y1="237.2" y2="239.79999999999998" stroke="#333" stroke-width="0.9"/>
<text transform="translate(306.45,242.20) rotate(-45)" x="0" y="0" dy="0.72em" font-size="12.4" font-weight="bold" font-style="italic" text-anchor="end" stroke="#1a1a1a" stroke-width="0.3" fill="#1a1a1a">O. fragrans</text>
<line x1="330.55" x2="330.55" y1="237.2" y2="239.79999999999998" stroke="#333" stroke-width="0.9"/>
<text transform="translate(329.55,242.20) rotate(-45)" x="0" y="0" dy="0.72em" font-size="12.4" font-weight="bold" font-style="italic" text-anchor="end" stroke="#1a1a1a" stroke-width="0.3" fill="#1a1a1a">P. macrophyllus</text>
<line x1="353.65" x2="353.65" y1="237.2" y2="239.79999999999998" stroke="#333" stroke-width="0.9"/>
<text transform="translate(352.65,242.20) rotate(-45)" x="0" y="0" dy="0.72em" font-size="12.4" font-weight="bold" font-style="italic" text-anchor="end" stroke="#1a1a1a" stroke-width="0.3" fill="#1a1a1a">L. chinense var. rubrum</text>
<line x1="376.74" x2="376.74" y1="237.2" y2="239.79999999999998" stroke="#333" stroke-width="0.9"/>
<text transform="translate(375.74,242.20) rotate(-45)" x="0" y="0" dy="0.72em" font-size="12.4" font-weight="bold" font-style="italic" text-anchor="end" stroke="#1a1a1a" stroke-width="0.3" fill="#1a1a1a">P. tobira</text>
<line x1="444.26" x2="444.26" y1="237.2" y2="239.79999999999998" stroke="#333" stroke-width="0.9"/>
<text transform="translate(443.26,242.20) rotate(-45)" x="0" y="0" dy="0.72em" font-size="12.4" font-weight="bold" font-style="italic" text-anchor="end" stroke="#1a1a1a" stroke-width="0.3" fill="#1a1a1a">C. camphora</text>
<line x1="467.35" x2="467.35" y1="237.2" y2="239.79999999999998" stroke="#333" stroke-width="0.9"/>
<text transform="translate(466.35,242.20) rotate(-45)" x="0" y="0" dy="0.72em" font-size="12.4" font-weight="bold" font-style="italic" text-anchor="end" stroke="#1a1a1a" stroke-width="0.3" fill="#1a1a1a">M. grandiflora</text>
<line x1="490.45" x2="490.45" y1="237.2" y2="239.79999999999998" stroke="#333" stroke-width="0.9"/>
<text transform="translate(489.45,242.20) rotate(-45)" x="0" y="0" dy="0.72em" font-size="12.4" font-weight="bold" font-style="italic" text-anchor="end" stroke="#1a1a1a" stroke-width="0.3" fill="#1a1a1a">O. fragrans</text>
<line x1="513.55" x2="513.55" y1="237.2" y2="239.79999999999998" stroke="#333" stroke-width="0.9"/>
<text transform="translate(512.55,242.20) rotate(-45)" x="0" y="0" dy="0.72em" font-size="12.4" font-weight="bold" font-style="italic" text-anchor="end" stroke="#1a1a1a" stroke-width="0.3" fill="#1a1a1a">P. macrophyllus</text>
<line x1="536.65" x2="536.65" y1="237.2" y2="239.79999999999998" stroke="#333" stroke-width="0.9"/>
<text transform="translate(535.65,242.20) rotate(-45)" x="0" y="0" dy="0.72em" font-size="12.4" font-weight="bold" font-style="italic" text-anchor="end" stroke="#1a1a1a" stroke-width="0.3" fill="#1a1a1a">L. chinense var. rubrum</text>
<line x1="559.74" x2="559.74" y1="237.2" y2="239.79999999999998" stroke="#333" stroke-width="0.9"/>
<text transform="translate(558.74,242.20) rotate(-45)" x="0" y="0" dy="0.72em" font-size="12.4" font-weight="bold" font-style="italic" text-anchor="end" stroke="#1a1a1a" stroke-width="0.3" fill="#1a1a1a">P. tobira</text>
<text transform="translate(9.6,278.4) rotate(-90)" x="0" y="0" font-size="12.4" fill="#1a1a1a" stroke="#1a1a1a" stroke-width="0.1">Element concentration (mg / kg)</text>
<text x="587" y="105.8" font-size="12.4" fill="#1a1a1a" stroke="#1a1a1a" stroke-width="0.1">size</text>
<circle cx="593.9" cy="120.8" r="1.7" fill="#777"/>
<text x="603.2" y="123.80" font-size="12" fill="#1a1a1a" stroke="#1a1a1a" stroke-width="0.1">PM<tspan font-size="8.6" dy="2.2">2.5</tspan></text>
<path d="M593.9,132.9 L596.1,136.79999999999998 L591.6999999999999,136.79999999999998 Z" fill="#777"/>
<text x="603.2" y="138.10" font-size="12" fill="#1a1a1a" stroke="#1a1a1a" stroke-width="0.1">PM<tspan font-size="8.6" dy="2.2">10</tspan></text>
<rect x="592.3" y="147.8" width="3.2" height="3.2" fill="#777"/>
<text x="603.2" y="152.40" font-size="12" fill="#1a1a1a" stroke="#1a1a1a" stroke-width="0.1">PM<tspan font-size="8.6" dy="2.2">&gt;10</tspan></text>
<text x="587.2" y="184.8" font-size="12.4" fill="#1a1a1a" stroke="#1a1a1a" stroke-width="0.1">plants</text>
<rect x="588.2" y="193.30" width="11.6" height="12" fill="#B1CCF0"/>
<line x1="594" x2="594" y1="193.30" y2="205.30" stroke="#1a1a1a" stroke-width="0.9"/>
<rect x="588.8" y="195.70" width="10.4" height="7.3" fill="#5B9BE8" stroke="#1a1a1a" stroke-width="0.9"/>
<line x1="588.8" x2="599.2" y1="199.30" y2="199.30" stroke="#1a1a1a" stroke-width="0.9"/>
<circle cx="594" cy="199.30" r="1.8" fill="#1a1a1a"/>
<text x="607.8" y="202.50" font-size="10" font-weight="bold" font-style="italic" fill="#1a1a1a" stroke="#1a1a1a" stroke-width="0.15">C. camphora</text>
<rect x="588.2" y="207.70" width="11.6" height="12" fill="#F8C3D0"/>
<line x1="594" x2="594" y1="207.70" y2="219.70" stroke="#1a1a1a" stroke-width="0.9"/>
<rect x="588.8" y="210.10" width="10.4" height="7.3" fill="#F3819C" stroke="#1a1a1a" stroke-width="0.9"/>
<line x1="588.8" x2="599.2" y1="213.70" y2="213.70" stroke="#1a1a1a" stroke-width="0.9"/>
<circle cx="594" cy="213.70" r="1.8" fill="#1a1a1a"/>
<text x="607.8" y="216.90" font-size="10" font-weight="bold" font-style="italic" fill="#1a1a1a" stroke="#1a1a1a" stroke-width="0.15">M. grandiflora</text>
<rect x="588.2" y="222.10" width="11.6" height="12" fill="#FDDCBD"/>
<line x1="594" x2="594" y1="222.10" y2="234.10" stroke="#1a1a1a" stroke-width="0.9"/>
<rect x="588.8" y="224.50" width="10.4" height="7.3" fill="#F9B46E" stroke="#1a1a1a" stroke-width="0.9"/>
<line x1="588.8" x2="599.2" y1="228.10" y2="228.10" stroke="#1a1a1a" stroke-width="0.9"/>
<circle cx="594" cy="228.10" r="1.8" fill="#1a1a1a"/>
<text x="607.8" y="231.30" font-size="10" font-weight="bold" font-style="italic" fill="#1a1a1a" stroke="#1a1a1a" stroke-width="0.15">O. fragrans</text>
<rect x="588.2" y="236.50" width="11.6" height="12" fill="#D7C8EE"/>
<line x1="594" x2="594" y1="236.50" y2="248.50" stroke="#1a1a1a" stroke-width="0.9"/>
<rect x="588.8" y="238.90" width="10.4" height="7.3" fill="#A57BDB" stroke="#1a1a1a" stroke-width="0.9"/>
<line x1="588.8" x2="599.2" y1="242.50" y2="242.50" stroke="#1a1a1a" stroke-width="0.9"/>
<circle cx="594" cy="242.50" r="1.8" fill="#1a1a1a"/>
<text x="607.8" y="245.70" font-size="10" font-weight="bold" font-style="italic" fill="#1a1a1a" stroke="#1a1a1a" stroke-width="0.15">P. macrophyllus</text>
<rect x="588.2" y="250.90" width="11.6" height="12" fill="#A2E4CD"/>
<line x1="594" x2="594" y1="250.90" y2="262.90" stroke="#1a1a1a" stroke-width="0.9"/>
<rect x="588.8" y="253.30" width="10.4" height="7.3" fill="#3CCB94" stroke="#1a1a1a" stroke-width="0.9"/>
<line x1="588.8" x2="599.2" y1="256.90" y2="256.90" stroke="#1a1a1a" stroke-width="0.9"/>
<circle cx="594" cy="256.90" r="1.8" fill="#1a1a1a"/>
<text x="607.8" y="260.10" font-size="10" font-weight="bold" font-style="italic" fill="#1a1a1a" stroke="#1a1a1a" stroke-width="0.15">L. chinense var. rubrum</text>
<rect x="588.2" y="265.30" width="11.6" height="12" fill="#F5AF96"/>
<line x1="594" x2="594" y1="265.30" y2="277.30" stroke="#1a1a1a" stroke-width="0.9"/>
<rect x="588.8" y="267.70" width="10.4" height="7.3" fill="#F36B3A" stroke="#1a1a1a" stroke-width="0.9"/>
<line x1="588.8" x2="599.2" y1="271.30" y2="271.30" stroke="#1a1a1a" stroke-width="0.9"/>
<circle cx="594" cy="271.30" r="1.8" fill="#1a1a1a"/>
<text x="607.8" y="274.50" font-size="10" font-weight="bold" font-style="italic" fill="#1a1a1a" stroke="#1a1a1a" stroke-width="0.15">P. tobira</text>
</svg></body></html>
